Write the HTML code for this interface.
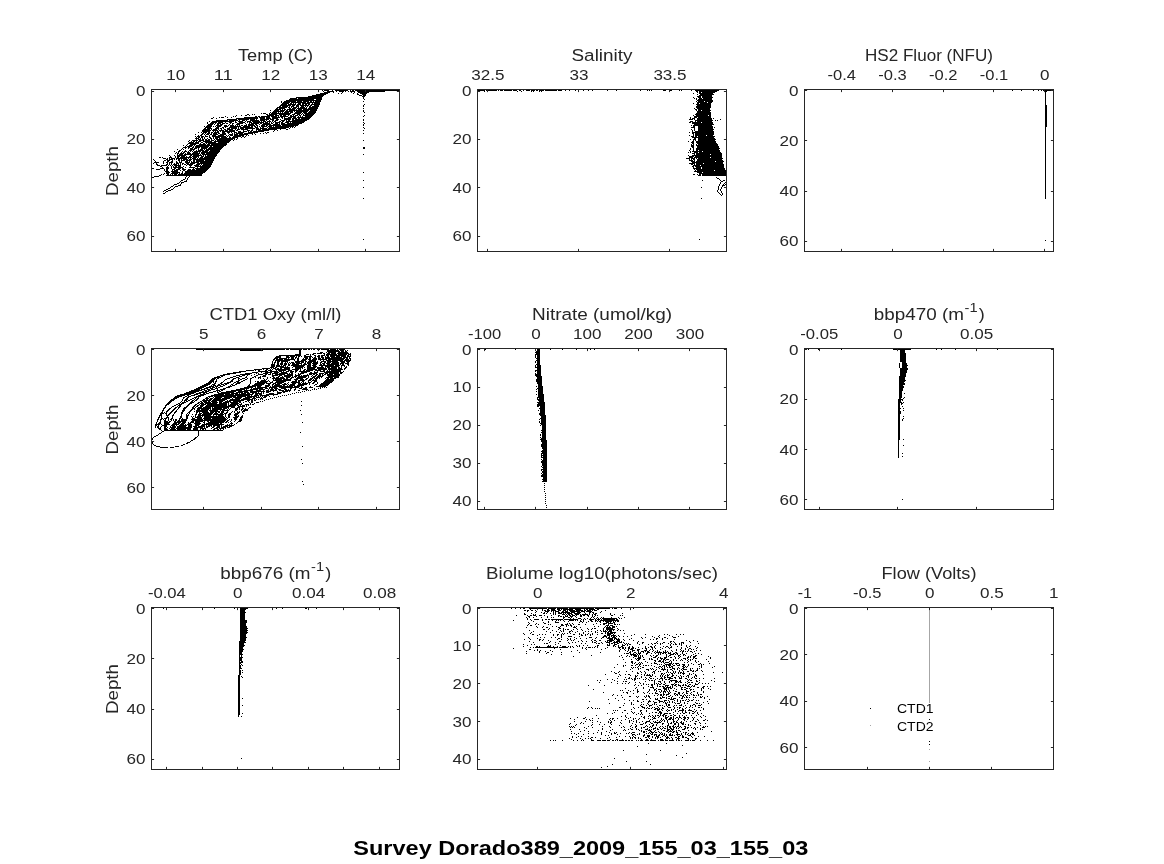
<!DOCTYPE html>
<html><head><meta charset="utf-8"><title>Survey Dorado389_2009_155_03_155_03</title>
<style>html,body{margin:0;padding:0;background:#fff;}svg{display:block;will-change:transform;}text{font-family:"Liberation Sans",sans-serif;}</style></head>
<body>
<svg width="1164" height="864" viewBox="0 0 1164 864" font-family="'Liberation Sans', sans-serif">
<rect width="1164" height="864" fill="#fff"/>
<path transform="translate(0 .5)" d="M344 89h56M694 89h25M1043 89h11M322 90h1M324 90h5M332 90h1M335 90h13M350 90h1M352 90h2M355 90h45M478 90h7M486 90h11M498 90h1M500 90h3M504 90h8M513 90h4M519 90h2M523 90h1M526 90h4M531 90h4M536 90h2M539 90h5M545 90h12M558 90h4M565 90h1M569 90h1M575 90h1M583 90h1M588 90h1M592 90h1M607 90h1M616 90h1M640 90h1M647 90h1M649 90h1M651 90h1M663 90h3M670 90h2M679 90h1M681 90h1M691 90h1M695 90h24M1012 90h1M1021 90h1M1033 90h1M1038 90h1M1041 90h1M1043 90h11M323 91h1M327 91h7M336 91h1M339 91h5M345 91h1M348 91h1M350 91h5M357 91h28M484 91h1M517 91h1M521 91h1M531 91h1M533 91h1M539 91h1M541 91h1M696 91h2M699 91h18M1044 91h3M324 92h6M333 92h1M342 92h1M351 92h1M354 92h1M358 92h11M697 92h1M699 92h2M702 92h13M1045 92h1M320 93h8M338 93h1M341 93h1M353 93h1M357 93h1M360 93h7M693 93h1M699 93h14M1045 93h1M316 94h10M357 94h2M362 94h4M697 94h1M700 94h14M1045 94h1M312 95h12M359 95h3M363 95h3M699 95h13M1045 95h1M308 96h15M362 96h3M697 96h4M702 96h10M1045 96h1M296 97h26M363 97h1M693 97h1M698 97h3M702 97h11M1045 97h1M290 98h7M298 98h24M363 98h1M694 98h1M696 98h1M699 98h3M703 98h9M1045 98h1M289 99h25M316 99h6M364 99h1M696 99h1M698 99h14M1045 99h1M286 100h35M697 100h16M1045 100h1M281 101h1M284 101h12M297 101h5M303 101h6M310 101h2M313 101h1M315 101h6M363 101h1M696 101h1M698 101h6M705 101h8M1045 101h1M281 102h1M283 102h7M291 102h15M307 102h13M697 102h10M708 102h4M1045 102h1M282 103h7M290 103h2M293 103h1M295 103h1M298 103h3M302 103h8M312 103h1M314 103h6M693 103h1M697 103h2M700 103h11M1045 103h1M281 104h6M288 104h8M297 104h4M302 104h2M305 104h2M308 104h2M311 104h9M364 104h1M696 104h15M1045 104h1M280 105h11M292 105h3M296 105h3M300 105h9M310 105h2M314 105h5M363 105h1M697 105h14M1045 105h2M279 106h2M282 106h6M289 106h1M291 106h3M296 106h3M301 106h3M305 106h1M307 106h1M309 106h2M312 106h7M363 106h1M696 106h15M1045 106h2M277 107h10M288 107h2M291 107h1M293 107h4M298 107h1M300 107h5M306 107h1M309 107h9M696 107h15M1045 107h2M276 108h2M279 108h6M289 108h2M292 108h4M297 108h10M308 108h10M363 108h1M694 108h1M697 108h13M1045 108h2M275 109h6M282 109h1M284 109h2M287 109h8M296 109h1M298 109h4M303 109h14M695 109h2M698 109h12M1045 109h2M270 110h1M274 110h5M280 110h5M286 110h2M289 110h20M310 110h7M363 110h1M696 110h1M698 110h3M702 110h9M1045 110h2M273 111h11M285 111h8M294 111h1M296 111h12M309 111h7M363 111h1M697 111h13M1045 111h2M270 112h1M272 112h5M278 112h1M280 112h1M282 112h1M284 112h5M290 112h3M295 112h7M303 112h4M308 112h8M364 112h1M697 112h14M1045 112h2M261 113h1M263 113h3M269 113h1M271 113h20M294 113h7M302 113h1M304 113h11M696 113h15M1045 113h2M247 114h2M252 114h1M254 114h1M266 114h2M269 114h8M279 114h11M292 114h3M297 114h3M301 114h1M303 114h1M305 114h9M695 114h16M1045 114h2M236 115h1M241 115h1M245 115h2M249 115h1M267 115h7M275 115h4M280 115h2M283 115h3M288 115h1M290 115h2M293 115h1M295 115h3M299 115h2M303 115h10M364 115h1M693 115h1M696 115h12M709 115h2M1045 115h2M225 116h1M233 116h1M235 116h1M255 116h2M258 116h2M261 116h9M271 116h6M278 116h1M280 116h8M290 116h6M298 116h1M300 116h1M302 116h1M305 116h7M363 116h1M694 116h17M1045 116h2M213 117h1M219 117h1M221 117h3M227 117h1M231 117h1M244 117h14M259 117h6M266 117h4M272 117h8M281 117h2M284 117h1M288 117h4M293 117h3M297 117h14M690 117h1M694 117h3M698 117h13M1045 117h2M211 118h2M216 118h1M236 118h22M260 118h5M266 118h5M272 118h6M282 118h1M284 118h7M292 118h5M298 118h2M301 118h9M690 118h1M692 118h3M697 118h15M713 118h1M1045 118h2M227 119h10M238 119h11M250 119h5M256 119h1M260 119h9M270 119h4M276 119h3M280 119h1M284 119h7M292 119h2M295 119h14M363 119h1M689 119h4M694 119h1M697 119h15M720 119h1M1045 119h2M216 120h12M229 120h9M239 120h1M242 120h3M246 120h1M250 120h9M260 120h5M266 120h1M269 120h1M272 120h2M275 120h3M281 120h4M286 120h1M288 120h2M292 120h15M363 120h1M695 120h18M715 120h1M717 120h1M1045 120h2M209 121h1M212 121h22M235 121h1M238 121h5M245 121h1M247 121h4M252 121h8M261 121h1M263 121h3M267 121h4M272 121h1M274 121h2M279 121h2M282 121h2M286 121h19M690 121h3M695 121h1M697 121h15M1045 121h2M207 122h1M211 122h6M218 122h5M225 122h1M229 122h3M235 122h2M239 122h6M247 122h1M249 122h3M253 122h11M265 122h3M269 122h1M271 122h1M273 122h1M275 122h5M281 122h2M285 122h4M290 122h1M292 122h12M363 122h1M689 122h2M692 122h9M702 122h11M1045 122h2M207 123h1M210 123h4M215 123h1M217 123h4M222 123h3M226 123h2M230 123h1M232 123h2M237 123h6M245 123h1M249 123h1M251 123h8M260 123h2M263 123h7M271 123h2M275 123h3M279 123h1M281 123h4M287 123h15M364 123h1M692 123h21M1045 123h2M208 124h5M214 124h1M217 124h2M220 124h3M229 124h1M232 124h1M236 124h4M246 124h1M248 124h6M255 124h2M259 124h1M262 124h9M273 124h7M281 124h18M363 124h1M694 124h20M1045 124h2M207 125h5M216 125h6M224 125h3M228 125h1M230 125h4M235 125h1M237 125h1M239 125h1M241 125h2M244 125h3M248 125h7M256 125h2M261 125h4M266 125h2M269 125h12M282 125h16M363 125h1M691 125h1M693 125h19M1045 125h2M204 126h1M206 126h6M213 126h1M215 126h1M217 126h4M224 126h4M230 126h11M243 126h7M251 126h2M254 126h2M257 126h1M259 126h1M261 126h6M268 126h4M273 126h1M275 126h19M295 126h1M693 126h2M698 126h15M1045 126h2M205 127h6M216 127h3M222 127h2M225 127h1M229 127h8M238 127h1M240 127h13M255 127h3M260 127h1M262 127h2M267 127h1M269 127h20M290 127h1M292 127h1M294 127h1M363 127h1M691 127h4M698 127h15M714 127h1M1045 127h1M204 128h2M207 128h5M215 128h4M220 128h2M223 128h1M227 128h3M231 128h6M238 128h1M240 128h4M245 128h10M256 128h3M260 128h7M268 128h18M289 128h1M364 128h1M694 128h1M698 128h15M1045 128h1M203 129h7M211 129h1M213 129h4M218 129h1M221 129h1M224 129h2M227 129h6M235 129h1M237 129h3M241 129h7M252 129h1M256 129h5M262 129h15M280 129h1M286 129h2M691 129h1M694 129h1M698 129h16M1045 129h1M202 130h9M212 130h6M219 130h5M225 130h3M229 130h6M236 130h2M243 130h1M247 130h3M251 130h2M256 130h1M258 130h11M274 130h1M277 130h1M363 130h1M692 130h1M694 130h1M698 130h15M1045 130h1M202 131h8M213 131h1M215 131h1M217 131h2M220 131h1M222 131h13M238 131h3M243 131h4M248 131h1M250 131h2M253 131h11M273 131h1M692 131h1M695 131h19M1045 131h1M198 132h1M201 132h1M203 132h4M208 132h2M211 132h2M214 132h5M222 132h3M227 132h3M231 132h1M234 132h3M238 132h6M248 132h10M265 132h1M267 132h2M689 132h1M692 132h22M1045 132h1M202 133h2M205 133h1M207 133h3M211 133h1M213 133h4M218 133h2M222 133h4M228 133h1M232 133h1M234 133h1M236 133h7M244 133h9M254 133h1M260 133h1M263 133h1M266 133h1M363 133h1M692 133h2M695 133h19M1045 133h1M195 134h1M201 134h2M204 134h1M206 134h3M210 134h2M213 134h5M220 134h6M229 134h4M234 134h4M239 134h9M252 134h1M255 134h1M693 134h1M695 134h19M1045 134h1M198 135h1M200 135h2M205 135h1M209 135h1M212 135h4M218 135h6M226 135h1M228 135h1M230 135h3M234 135h10M246 135h1M248 135h1M689 135h1M693 135h1M695 135h11M707 135h6M1045 135h1M195 136h1M197 136h3M201 136h3M205 136h3M209 136h1M212 136h14M227 136h1M229 136h1M233 136h8M242 136h2M245 136h1M691 136h3M695 136h2M698 136h17M1045 136h1M196 137h1M198 137h2M201 137h2M204 137h1M209 137h2M213 137h1M215 137h5M221 137h6M229 137h2M232 137h6M241 137h1M244 137h1M692 137h22M1045 137h1M195 138h4M200 138h1M202 138h1M204 138h1M207 138h1M210 138h2M213 138h1M215 138h3M219 138h16M237 138h1M694 138h2M698 138h17M1045 138h1M196 139h1M198 139h3M202 139h2M205 139h2M208 139h2M211 139h1M214 139h1M216 139h17M234 139h1M236 139h1M690 139h1M693 139h3M698 139h18M1045 139h1M189 140h1M192 140h6M199 140h5M205 140h5M211 140h3M215 140h1M217 140h14M233 140h1M363 140h1M693 140h1M695 140h1M698 140h17M1045 140h1M188 141h1M191 141h1M193 141h2M196 141h1M198 141h3M203 141h9M214 141h16M688 141h1M692 141h2M696 141h20M1045 141h1M189 142h5M195 142h4M201 142h2M205 142h11M218 142h11M691 142h3M696 142h20M1045 142h1M188 143h11M200 143h1M203 143h2M206 143h1M208 143h19M692 143h2M697 143h20M1045 143h1M187 144h1M190 144h6M199 144h7M207 144h3M211 144h16M691 144h1M693 144h1M696 144h1M698 144h20M1045 144h1M183 145h1M186 145h1M189 145h4M194 145h1M196 145h30M691 145h3M696 145h22M1045 145h1M185 146h1M187 146h5M193 146h1M195 146h14M210 146h2M213 146h11M691 146h3M697 146h22M1045 146h1M183 147h4M188 147h2M192 147h2M195 147h5M201 147h7M209 147h14M363 147h2M692 147h2M697 147h22M1045 147h1M182 148h1M185 148h1M188 148h1M190 148h3M194 148h3M198 148h1M201 148h6M208 148h14M363 148h2M690 148h1M693 148h1M696 148h24M1045 148h1M177 149h1M181 149h1M183 149h1M190 149h5M198 149h1M200 149h3M204 149h1M206 149h15M690 149h1M693 149h1M696 149h23M1045 149h1M179 150h2M185 150h1M189 150h3M193 150h1M196 150h1M198 150h6M205 150h4M210 150h10M689 150h1M693 150h1M696 150h2M699 150h21M1045 150h1M174 151h1M178 151h2M182 151h1M184 151h3M188 151h1M190 151h1M192 151h1M194 151h7M202 151h6M209 151h11M690 151h1M692 151h10M703 151h17M1045 151h1M176 152h1M178 152h1M181 152h1M183 152h2M187 152h3M193 152h5M199 152h1M201 152h18M688 152h1M690 152h1M694 152h4M699 152h22M1045 152h1M175 153h1M177 153h2M180 153h4M185 153h1M187 153h4M192 153h8M201 153h4M206 153h12M692 153h3M696 153h26M1045 153h1M177 154h1M179 154h4M184 154h15M200 154h1M202 154h15M363 154h1M694 154h1M696 154h14M711 154h11M1045 154h1M169 155h1M174 155h1M177 155h9M190 155h2M193 155h9M203 155h1M205 155h1M207 155h10M688 155h1M692 155h30M1045 155h1M170 156h1M175 156h1M177 156h3M181 156h4M186 156h1M189 156h2M192 156h7M201 156h3M205 156h11M689 156h5M695 156h27M1045 156h1M159 157h2M162 157h1M169 157h3M175 157h1M177 157h2M180 157h12M193 157h4M198 157h1M200 157h3M204 157h11M689 157h4M694 157h16M711 157h11M1045 157h1M163 158h3M167 158h1M169 158h1M171 158h4M176 158h11M188 158h1M190 158h1M192 158h4M197 158h1M199 158h16M686 158h4M691 158h4M696 158h1M698 158h25M1045 158h1M153 159h1M166 159h2M169 159h4M174 159h1M176 159h1M178 159h2M181 159h1M183 159h5M189 159h3M193 159h21M689 159h1M691 159h1M693 159h2M697 159h25M1045 159h1M154 160h1M164 160h2M167 160h3M172 160h1M178 160h2M181 160h4M186 160h5M193 160h2M196 160h8M205 160h9M689 160h4M694 160h1M697 160h26M1045 160h1M155 161h1M163 161h1M167 161h2M171 161h2M176 161h1M179 161h1M181 161h1M185 161h3M189 161h1M191 161h1M193 161h2M196 161h17M691 161h4M696 161h19M716 161h8M1045 161h1M154 162h5M163 162h1M166 162h2M169 162h4M176 162h2M179 162h3M185 162h5M191 162h8M200 162h13M692 162h31M1045 162h1M153 163h1M156 163h1M163 163h1M167 163h1M169 163h1M171 163h1M174 163h1M176 163h3M180 163h1M182 163h2M186 163h3M190 163h5M197 163h15M689 163h6M696 163h7M704 163h19M1045 163h1M156 164h2M166 164h2M169 164h1M171 164h1M173 164h4M178 164h1M180 164h1M182 164h1M184 164h2M187 164h6M196 164h4M201 164h1M203 164h9M691 164h2M694 164h1M696 164h28M1045 164h1M157 165h3M161 165h6M168 165h1M170 165h1M172 165h1M174 165h7M186 165h1M189 165h3M194 165h5M200 165h1M202 165h9M693 165h7M701 165h23M1045 165h1M160 166h2M167 166h1M171 166h1M173 166h1M175 166h2M178 166h3M183 166h1M190 166h1M195 166h16M692 166h2M695 166h29M1045 166h1M162 167h1M166 167h3M171 167h1M173 167h10M185 167h1M189 167h6M197 167h1M200 167h10M693 167h1M696 167h5M702 167h22M1045 167h1M152 168h2M160 168h4M166 168h3M171 168h1M174 168h2M178 168h3M182 168h2M193 168h1M195 168h14M693 168h8M702 168h23M1045 168h1M156 169h4M164 169h1M166 169h2M172 169h3M176 169h4M182 169h4M188 169h3M192 169h3M196 169h12M694 169h1M696 169h29M1045 169h1M164 170h1M166 170h2M172 170h1M174 170h4M180 170h1M183 170h2M187 170h20M695 170h1M697 170h17M715 170h11M1045 170h1M165 171h4M171 171h7M182 171h1M185 171h21M694 171h32M1045 171h1M166 172h4M172 172h8M182 172h1M185 172h20M363 172h1M697 172h5M703 172h23M1045 172h1M164 173h1M166 173h3M171 173h7M179 173h1M181 173h2M184 173h19M699 173h27M1045 173h1M161 174h1M163 174h1M167 174h2M170 174h1M172 174h1M174 174h3M178 174h24M693 174h2M697 174h1M699 174h2M702 174h25M1045 174h1M159 175h2M166 175h36M698 175h3M702 175h24M1045 175h1M154 176h5M186 176h1M189 176h1M1045 176h1M152 177h2M185 177h1M188 177h1M716 177h1M1045 177h1M185 178h1M187 178h1M717 178h2M1045 178h1M183 179h2M187 179h1M719 179h1M1045 179h1M181 180h2M186 180h1M363 180h1M702 180h1M720 180h1M723 180h2M726 180h1M1045 180h1M180 181h1M184 181h3M721 181h2M726 181h1M1045 181h1M179 182h1M181 182h3M720 182h1M725 182h1M1045 182h1M177 183h2M181 183h1M720 183h1M724 183h1M1045 183h1M174 184h3M180 184h1M719 184h1M723 184h1M725 184h1M1045 184h1M173 185h1M178 185h3M719 185h1M722 185h3M1045 185h1M171 186h2M175 186h3M718 186h1M722 186h1M1045 186h1M170 187h1M174 187h1M363 187h1M701 187h1M718 187h1M721 187h1M1045 187h1M168 188h2M173 188h1M718 188h1M721 188h1M1045 188h1M166 189h2M171 189h2M718 189h1M720 189h1M1045 189h1M164 190h2M168 190h3M717 190h1M720 190h1M1045 190h1M163 191h1M166 191h2M717 191h1M721 191h1M1045 191h1M165 192h1M718 192h1M721 192h1M1045 192h1M163 193h2M719 193h1M722 193h1M1045 193h1M720 194h1M722 194h1M1045 194h1M721 195h1M1045 195h1M1045 196h1M1045 197h1M363 198h1M701 198h1M1045 198h1M363 239h1M699 239h1M1045 240h1M196 349h89M286 349h3M290 349h12M303 349h4M308 349h2M311 349h1M313 349h2M317 349h3M321 349h8M330 349h6M337 349h1M339 349h6M485 349h1M515 349h1M535 349h1M537 349h3M550 349h1M562 349h1M576 349h1M590 349h1M594 349h1M808 349h1M818 349h1M841 349h1M893 349h18M936 349h1M941 349h1M955 349h1M997 349h1M240 350h23M299 350h2M327 350h12M340 350h4M345 350h1M347 350h1M537 350h3M900 350h5M299 351h2M327 351h13M341 351h3M345 351h2M536 351h4M900 351h5M299 352h2M320 352h3M326 352h1M328 352h8M338 352h10M535 352h5M900 352h5M299 353h2M313 353h3M317 353h5M323 353h2M327 353h3M331 353h5M337 353h12M350 353h1M536 353h4M900 353h6M295 354h6M306 354h3M310 354h1M312 354h2M324 354h1M326 354h11M338 354h9M348 354h3M535 354h5M900 354h6M279 355h22M304 355h2M310 355h1M314 355h2M318 355h2M321 355h4M326 355h3M330 355h16M347 355h2M350 355h1M535 355h1M537 355h3M900 355h6M276 356h5M286 356h3M290 356h5M296 356h1M298 356h2M301 356h1M304 356h8M315 356h1M317 356h3M321 356h2M325 356h1M327 356h2M330 356h5M336 356h4M341 356h5M347 356h4M535 356h1M537 356h3M900 356h6M275 357h6M286 357h4M291 357h3M295 357h2M298 357h1M304 357h4M309 357h2M312 357h1M314 357h2M318 357h2M321 357h3M325 357h5M331 357h11M343 357h5M349 357h1M535 357h1M537 357h3M900 357h6M274 358h4M279 358h8M288 358h1M291 358h3M295 358h1M297 358h2M303 358h1M305 358h3M309 358h2M313 358h4M318 358h3M322 358h2M325 358h20M346 358h2M349 358h2M536 358h4M900 358h6M273 359h2M276 359h7M284 359h11M297 359h2M302 359h5M308 359h3M312 359h5M318 359h9M328 359h16M345 359h4M350 359h1M537 359h3M900 359h6M273 360h1M275 360h15M294 360h1M297 360h2M301 360h5M309 360h7M320 360h1M323 360h1M326 360h5M332 360h11M344 360h7M536 360h4M900 360h6M272 361h1M275 361h1M277 361h3M281 361h7M295 361h9M305 361h2M308 361h8M317 361h1M321 361h5M327 361h11M340 361h5M346 361h4M535 361h1M537 361h3M900 361h6M272 362h1M274 362h2M277 362h2M281 362h2M285 362h1M287 362h1M289 362h1M291 362h3M295 362h5M301 362h3M305 362h1M307 362h5M313 362h5M320 362h2M324 362h2M327 362h4M332 362h7M341 362h4M347 362h2M535 362h1M537 362h3M902 362h4M272 363h1M274 363h1M277 363h2M280 363h3M284 363h3M288 363h1M290 363h1M292 363h3M296 363h6M304 363h2M307 363h4M312 363h6M320 363h1M322 363h3M326 363h4M331 363h8M340 363h4M345 363h4M537 363h3M899 363h1M902 363h5M271 364h4M277 364h2M280 364h3M284 364h3M288 364h2M292 364h7M301 364h1M303 364h4M308 364h3M313 364h4M320 364h2M323 364h2M327 364h12M340 364h1M342 364h2M347 364h2M536 364h4M899 364h1M902 364h5M271 365h4M276 365h4M281 365h1M283 365h3M288 365h2M291 365h14M307 365h4M312 365h4M319 365h15M335 365h5M341 365h4M348 365h1M535 365h1M537 365h4M899 365h1M902 365h6M271 366h4M276 366h8M285 366h1M287 366h1M293 366h11M307 366h4M313 366h4M321 366h2M325 366h14M341 366h1M344 366h1M346 366h1M535 366h1M537 366h4M899 366h1M902 366h5M270 367h4M275 367h2M280 367h10M292 367h1M295 367h8M304 367h1M307 367h9M317 367h7M325 367h1M327 367h3M331 367h6M338 367h2M341 367h1M345 367h2M535 367h6M899 367h1M902 367h5M262 368h8M271 368h1M273 368h3M277 368h2M280 368h2M284 368h6M295 368h6M302 368h1M307 368h8M317 368h10M328 368h9M338 368h4M344 368h2M537 368h4M900 368h8M254 369h8M263 369h1M266 369h2M270 369h1M272 369h1M275 369h15M292 369h7M300 369h1M304 369h2M307 369h10M318 369h9M328 369h15M344 369h1M537 369h4M900 369h8M246 370h8M255 370h1M258 370h2M265 370h2M268 370h4M276 370h1M278 370h8M288 370h4M295 370h3M300 370h1M303 370h2M306 370h7M315 370h6M323 370h2M327 370h1M329 370h1M331 370h10M535 370h6M900 370h7M239 371h7M258 371h10M270 371h8M279 371h3M283 371h1M286 371h3M290 371h4M295 371h2M299 371h11M314 371h1M317 371h1M320 371h5M326 371h15M343 371h1M535 371h1M537 371h4M900 371h7M233 372h8M252 372h6M261 372h1M265 372h7M274 372h5M281 372h6M290 372h3M295 372h1M301 372h6M310 372h2M314 372h4M324 372h15M340 372h3M537 372h4M900 372h7M227 373h9M245 373h7M256 373h1M258 373h1M263 373h5M270 373h1M272 373h6M279 373h9M289 373h1M291 373h2M298 373h1M300 373h4M309 373h8M319 373h5M325 373h3M329 373h10M340 373h2M535 373h1M537 373h4M900 373h6M223 374h7M240 374h10M254 374h1M258 374h5M265 374h2M268 374h3M272 374h1M275 374h10M287 374h6M295 374h1M298 374h3M307 374h1M309 374h3M313 374h2M316 374h2M319 374h2M322 374h1M324 374h2M327 374h6M334 374h6M535 374h6M900 374h6M220 375h5M236 375h4M242 375h3M247 375h1M251 375h1M256 375h2M263 375h3M272 375h6M279 375h3M284 375h9M295 375h5M301 375h1M303 375h6M312 375h1M315 375h2M318 375h3M322 375h2M327 375h13M535 375h6M900 375h6M217 376h3M221 376h2M233 376h3M239 376h3M246 376h1M254 376h2M260 376h1M262 376h4M272 376h2M278 376h2M282 376h1M284 376h7M292 376h1M294 376h3M298 376h9M308 376h1M311 376h1M313 376h3M317 376h6M328 376h11M536 376h6M899 376h7M214 377h7M230 377h3M236 377h3M245 377h2M252 377h2M255 377h1M258 377h3M267 377h1M270 377h1M273 377h2M276 377h3M280 377h4M286 377h4M291 377h3M295 377h1M297 377h9M308 377h1M312 377h3M316 377h4M321 377h1M326 377h7M334 377h5M537 377h5M899 377h6M212 378h4M217 378h2M227 378h3M233 378h3M238 378h2M242 378h3M247 378h1M250 378h2M258 378h1M260 378h1M263 378h1M267 378h1M272 378h13M286 378h2M290 378h2M296 378h7M306 378h2M310 378h3M314 378h4M319 378h1M325 378h1M327 378h2M330 378h6M537 378h5M899 378h6M211 379h4M216 379h1M225 379h2M232 379h2M238 379h1M240 379h2M245 379h2M250 379h1M264 379h1M266 379h1M273 379h1M275 379h7M283 379h8M294 379h4M300 379h4M305 379h2M309 379h3M313 379h1M315 379h2M326 379h8M536 379h6M899 379h6M210 380h4M216 380h1M224 380h1M231 380h2M238 380h2M243 380h2M250 380h1M261 380h5M268 380h1M273 380h18M295 380h2M298 380h7M308 380h3M312 380h5M325 380h9M536 380h6M899 380h7M209 381h5M215 381h2M223 381h1M230 381h3M236 381h3M241 381h2M250 381h1M255 381h1M257 381h2M260 381h8M269 381h1M272 381h1M276 381h10M292 381h5M298 381h2M302 381h2M308 381h1M311 381h1M314 381h3M324 381h9M536 381h6M899 381h6M208 382h4M213 382h1M215 382h1M221 382h2M227 382h4M234 382h2M237 382h4M250 382h1M257 382h10M270 382h3M275 382h9M288 382h1M291 382h9M301 382h1M303 382h1M305 382h1M308 382h3M313 382h2M317 382h1M323 382h9M537 382h5M899 382h5M206 383h5M214 383h2M220 383h2M224 383h5M233 383h1M236 383h4M250 383h1M255 383h10M266 383h5M273 383h3M277 383h5M284 383h2M287 383h1M292 383h4M298 383h3M302 383h6M309 383h1M312 383h2M317 383h1M321 383h9M537 383h5M899 383h6M204 384h6M212 384h3M218 384h2M221 384h3M225 384h2M231 384h2M235 384h2M249 384h1M254 384h10M268 384h2M272 384h2M275 384h5M282 384h5M288 384h1M290 384h5M298 384h9M309 384h1M315 384h2M320 384h9M538 384h4M899 384h6M202 385h6M211 385h1M213 385h3M217 385h4M223 385h2M230 385h1M232 385h3M248 385h2M252 385h10M265 385h5M272 385h1M274 385h8M283 385h2M287 385h1M289 385h6M297 385h7M314 385h1M319 385h9M538 385h4M899 385h4M200 386h6M209 386h5M215 386h3M220 386h3M228 386h4M247 386h9M257 386h4M265 386h4M270 386h1M272 386h21M294 386h6M301 386h1M310 386h1M316 386h10M536 386h1M538 386h5M899 386h5M198 387h6M206 387h5M212 387h3M216 387h1M218 387h2M226 387h4M244 387h9M255 387h1M257 387h10M269 387h8M279 387h20M301 387h2M305 387h2M309 387h4M320 387h1M322 387h1M324 387h1M326 387h1M538 387h5M899 387h5M196 388h6M204 388h4M210 388h3M215 388h3M223 388h3M240 388h9M251 388h1M253 388h10M265 388h3M269 388h1M271 388h2M274 388h4M281 388h5M290 388h2M295 388h1M299 388h3M303 388h4M314 388h1M318 388h1M320 388h1M537 388h6M899 388h4M194 389h6M201 389h4M207 389h3M211 389h4M217 389h1M220 389h5M236 389h9M246 389h1M250 389h8M259 389h6M268 389h1M270 389h4M275 389h2M278 389h3M284 389h3M288 389h1M290 389h1M294 389h2M302 389h6M312 389h1M314 389h1M316 389h1M536 389h1M538 389h5M899 389h4M191 390h11M204 390h3M208 390h3M216 390h4M221 390h2M231 390h11M244 390h9M256 390h5M263 390h1M266 390h3M270 390h7M279 390h5M285 390h6M294 390h1M298 390h2M306 390h1M308 390h1M310 390h1M538 390h5M899 390h4M189 391h10M202 391h2M205 391h4M213 391h3M217 391h1M219 391h2M226 391h10M238 391h10M250 391h15M266 391h5M273 391h1M277 391h1M282 391h6M289 391h1M302 391h1M304 391h1M536 391h1M538 391h5M899 391h3M186 392h10M199 392h8M209 392h4M217 392h2M221 392h13M236 392h7M244 392h5M250 392h7M258 392h1M261 392h1M263 392h1M266 392h3M277 392h5M283 392h2M296 392h1M298 392h1M300 392h1M538 392h5M899 392h3M184 393h10M196 393h5M203 393h2M206 393h3M218 393h12M231 393h7M239 393h1M241 393h5M247 393h3M252 393h2M255 393h7M263 393h1M269 393h5M277 393h4M292 393h1M294 393h1M538 393h5M899 393h3M904 393h1M180 394h11M194 394h4M200 394h6M214 394h10M225 394h9M235 394h18M255 394h3M259 394h3M266 394h12M288 394h1M290 394h1M536 394h1M538 394h6M899 394h3M177 395h8M187 395h2M191 395h4M198 395h6M211 395h39M251 395h1M254 395h5M260 395h9M273 395h1M282 395h1M284 395h1M286 395h1M538 395h6M899 395h3M175 396h7M185 396h2M188 396h3M196 396h5M208 396h5M214 396h22M237 396h9M247 396h10M258 396h1M260 396h1M262 396h1M264 396h3M269 396h1M278 396h1M280 396h1M538 396h6M899 396h3M174 397h5M183 397h2M187 397h2M194 397h3M198 397h1M206 397h2M209 397h1M213 397h1M215 397h7M224 397h8M233 397h9M245 397h7M253 397h2M256 397h4M261 397h1M263 397h3M274 397h1M276 397h1M537 397h7M899 397h3M904 397h1M173 398h4M183 398h1M186 398h2M192 398h2M195 398h1M197 398h2M205 398h4M210 398h3M214 398h7M222 398h8M232 398h1M235 398h6M243 398h7M252 398h4M260 398h3M270 398h1M272 398h1M537 398h1M539 398h5M899 398h2M903 398h1M171 399h4M182 399h1M185 399h3M190 399h2M194 399h1M196 399h2M203 399h2M206 399h2M209 399h3M213 399h14M230 399h10M241 399h12M254 399h1M256 399h1M258 399h1M260 399h1M262 399h1M266 399h1M268 399h1M537 399h7M898 399h5M170 400h4M182 400h1M184 400h3M188 400h2M192 400h2M195 400h2M202 400h9M212 400h13M227 400h1M229 400h15M247 400h3M251 400h2M254 400h2M264 400h1M538 400h6M898 400h3M902 400h1M169 401h3M181 401h1M184 401h1M186 401h2M191 401h2M194 401h1M200 401h2M203 401h4M208 401h2M211 401h6M219 401h4M225 401h6M233 401h8M245 401h2M248 401h1M251 401h2M260 401h1M262 401h1M301 401h1M539 401h5M898 401h3M168 402h3M180 402h1M182 402h4M190 402h4M198 402h2M201 402h2M204 402h7M212 402h6M219 402h3M223 402h6M230 402h8M239 402h2M243 402h1M249 402h1M251 402h2M256 402h3M537 402h8M898 402h4M903 402h1M167 403h3M178 403h2M181 403h3M189 403h3M197 403h2M200 403h4M205 403h12M219 403h8M228 403h1M231 403h8M241 403h1M250 403h1M254 403h1M538 403h7M898 403h2M901 403h2M166 404h3M176 404h2M179 404h3M188 404h2M195 404h2M199 404h1M201 404h5M207 404h20M228 404h1M230 404h8M239 404h3M245 404h4M250 404h1M252 404h2M537 404h8M898 404h2M901 404h1M165 405h2M174 405h2M178 405h3M187 405h2M194 405h2M197 405h2M200 405h4M206 405h21M228 405h8M237 405h2M240 405h1M242 405h3M246 405h1M248 405h1M301 405h1M537 405h8M898 405h2M165 406h1M172 406h2M177 406h1M179 406h2M186 406h2M193 406h2M196 406h2M200 406h3M205 406h30M238 406h7M246 406h1M537 406h2M540 406h5M898 406h2M902 406h1M164 407h2M171 407h1M175 407h2M178 407h2M184 407h3M192 407h2M195 407h1M198 407h4M203 407h8M212 407h1M214 407h15M231 407h4M237 407h3M242 407h1M249 407h2M540 407h5M898 407h2M163 408h2M169 408h2M174 408h2M178 408h1M183 408h3M192 408h3M197 408h14M212 408h10M223 408h4M228 408h1M230 408h1M235 408h3M239 408h1M242 408h2M245 408h1M248 408h1M539 408h6M898 408h3M903 408h1M163 409h1M168 409h2M173 409h2M177 409h1M183 409h2M191 409h2M194 409h1M197 409h3M201 409h8M210 409h1M212 409h13M227 409h1M229 409h1M235 409h3M239 409h1M241 409h2M244 409h4M540 409h5M898 409h2M162 410h2M167 410h2M172 410h2M176 410h1M182 410h3M190 410h2M196 410h12M209 410h9M220 410h1M222 410h7M235 410h2M241 410h1M243 410h5M300 410h1M538 410h1M540 410h5M898 410h2M903 410h1M162 411h1M166 411h2M171 411h2M175 411h2M182 411h2M189 411h2M194 411h1M196 411h12M210 411h10M221 411h3M227 411h1M232 411h1M234 411h1M237 411h1M239 411h1M242 411h3M540 411h5M898 411h3M161 412h2M164 412h1M166 412h1M170 412h2M174 412h2M181 412h2M188 412h2M196 412h2M199 412h1M202 412h7M210 412h4M215 412h2M218 412h2M221 412h3M226 412h2M231 412h1M234 412h1M237 412h3M242 412h1M540 412h5M898 412h3M160 413h4M165 413h2M169 413h2M174 413h1M181 413h2M187 413h1M189 413h1M196 413h1M199 413h3M203 413h10M214 413h4M220 413h3M224 413h3M229 413h2M235 413h4M243 413h1M539 413h6M898 413h3M160 414h2M166 414h1M168 414h2M173 414h1M181 414h1M186 414h1M188 414h1M192 414h1M195 414h2M198 414h3M202 414h10M213 414h11M225 414h1M228 414h3M234 414h4M301 414h1M539 414h6M898 414h2M159 415h3M166 415h3M172 415h2M181 415h1M186 415h3M195 415h1M198 415h13M213 415h1M216 415h1M218 415h5M225 415h1M228 415h2M234 415h3M238 415h1M242 415h1M540 415h6M898 415h2M159 416h1M161 416h1M167 416h1M172 416h1M180 416h2M186 416h2M191 416h1M193 416h1M195 416h1M197 416h4M202 416h1M204 416h20M225 416h1M228 416h2M235 416h4M241 416h2M541 416h5M898 416h2M903 416h1M158 417h2M161 417h1M166 417h3M172 417h1M180 417h2M186 417h2M192 417h1M195 417h7M204 417h21M226 417h1M228 417h2M233 417h5M240 417h3M541 417h5M898 417h2M158 418h1M161 418h2M164 418h3M168 418h1M171 418h2M179 418h2M182 418h1M186 418h2M192 418h3M197 418h5M203 418h8M212 418h14M227 418h1M234 418h3M240 418h2M540 418h6M898 418h2M903 418h1M157 419h2M160 419h2M163 419h1M165 419h1M168 419h1M170 419h2M173 419h1M175 419h2M179 419h1M181 419h6M191 419h12M204 419h23M229 419h1M231 419h1M234 419h3M239 419h3M539 419h1M541 419h5M898 419h2M902 419h1M157 420h1M160 420h1M164 420h2M168 420h1M171 420h1M173 420h1M175 420h2M178 420h2M181 420h6M192 420h34M227 420h2M231 420h1M235 420h1M239 420h3M541 420h5M898 420h2M902 420h1M157 421h1M160 421h1M164 421h4M169 421h2M174 421h2M177 421h9M191 421h3M195 421h8M204 421h1M207 421h2M210 421h15M226 421h2M230 421h1M234 421h1M238 421h3M539 421h1M541 421h5M898 421h2M156 422h1M159 422h2M164 422h6M174 422h7M182 422h4M188 422h1M190 422h4M195 422h5M203 422h2M208 422h16M225 422h2M228 422h1M231 422h1M237 422h1M302 422h1M539 422h1M541 422h5M898 422h2M156 423h1M158 423h3M164 423h5M173 423h4M178 423h2M181 423h4M188 423h3M194 423h7M204 423h1M206 423h13M220 423h2M230 423h3M236 423h1M540 423h6M898 423h2M155 424h5M161 424h1M164 424h6M172 424h7M180 424h4M185 424h1M187 424h5M195 424h5M202 424h22M227 424h1M229 424h1M231 424h1M234 424h1M541 424h5M898 424h2M155 425h2M158 425h1M162 425h5M171 425h4M176 425h1M179 425h8M188 425h4M195 425h4M201 425h4M206 425h1M208 425h4M213 425h7M221 425h1M225 425h9M540 425h1M542 425h4M898 425h2M155 426h1M157 426h2M161 426h1M164 426h3M170 426h1M172 426h4M177 426h9M188 426h4M193 426h4M198 426h7M206 426h4M211 426h1M213 426h2M217 426h3M221 426h1M223 426h5M229 426h3M542 426h4M898 426h2M155 427h1M157 427h2M160 427h1M164 427h2M167 427h1M170 427h6M177 427h15M194 427h9M204 427h1M206 427h2M212 427h2M216 427h4M221 427h5M227 427h3M542 427h4M898 427h2M158 428h3M164 428h3M169 428h1M171 428h4M176 428h15M193 428h5M200 428h6M211 428h1M214 428h4M219 428h5M225 428h1M542 428h4M898 428h2M159 429h2M164 429h4M170 429h6M177 429h9M187 429h4M193 429h5M200 429h1M202 429h2M205 429h1M213 429h2M217 429h2M220 429h1M223 429h1M542 429h4M898 429h2M161 430h1M164 430h59M541 430h5M898 430h2M162 431h2M198 431h1M542 431h4M898 431h2M161 432h1M198 432h1M300 432h1M541 432h5M898 432h2M159 433h2M198 433h1M542 433h4M898 433h2M158 434h1M198 434h1M540 434h1M542 434h4M898 434h2M156 435h2M198 435h1M540 435h1M542 435h4M898 435h2M154 436h2M197 436h1M542 436h4M898 436h2M153 437h1M195 437h2M540 437h1M542 437h4M898 437h2M152 438h1M194 438h2M541 438h5M898 438h2M152 439h1M193 439h2M540 439h6M898 439h2M903 439h1M151 440h1M191 440h2M541 440h6M898 440h1M151 441h1M190 441h1M541 441h6M898 441h1M152 442h1M187 442h3M542 442h5M898 442h1M152 443h1M186 443h2M542 443h5M898 443h1M153 444h1M183 444h2M541 444h6M898 444h1M154 445h2M181 445h2M541 445h6M898 445h1M903 445h1M156 446h4M175 446h4M302 446h1M541 446h6M898 446h1M160 447h8M170 447h4M542 447h5M898 447h1M542 448h5M898 448h1M543 449h4M898 449h1M542 450h5M898 450h1M541 451h6M898 451h1M542 452h5M898 452h1M541 453h6M898 453h1M902 453h1M541 454h1M543 454h4M898 454h1M541 455h6M898 455h1M541 456h1M543 456h4M898 456h1M902 456h1M541 457h6M898 457h1M543 458h4M301 459h1M541 459h1M543 459h4M542 460h5M541 461h6M541 462h6M302 463h1M542 463h5M542 464h5M542 465h5M541 466h1M543 466h4M542 467h5M543 468h4M541 469h6M541 470h1M543 470h4M542 471h5M542 472h5M541 473h1M543 473h4M542 474h5M541 475h6M541 476h6M543 477h4M543 478h4M542 479h5M543 480h4M302 481h1M542 481h5M544 483h1M303 484h1M544 485h1M544 487h1M544 489h1M544 491h1M545 493h1M545 495h1M545 497h1M545 499h1M902 499h1M545 501h1M545 503h1M546 505h1M546 507h1M240 607h5M163 608h1M214 608h1M234 608h1M240 608h8M276 608h1M282 608h1M305 608h2M316 608h1M511 608h1M515 608h1M520 608h1M523 608h2M529 608h18M548 608h8M557 608h11M569 608h25M595 608h15M612 608h1M614 608h3M621 608h1M633 608h1M240 609h6M530 609h1M537 609h1M542 609h1M547 609h2M551 609h4M557 609h3M561 609h1M563 609h10M575 609h6M584 609h1M586 609h2M589 609h6M597 609h2M240 610h5M524 610h2M527 610h2M531 610h2M535 610h1M542 610h1M544 610h2M547 610h3M551 610h5M558 610h3M563 610h3M567 610h1M569 610h6M576 610h7M584 610h2M587 610h4M592 610h1M594 610h3M605 610h1M240 611h5M527 611h1M536 611h1M545 611h4M551 611h1M553 611h1M555 611h4M562 611h2M565 611h3M570 611h10M581 611h4M586 611h6M601 611h1M240 612h6M535 612h1M541 612h1M544 612h1M547 612h1M553 612h1M555 612h1M558 612h2M561 612h9M571 612h4M577 612h4M584 612h1M589 612h2M592 612h2M600 612h1M240 613h5M524 613h1M531 613h1M543 613h2M546 613h1M550 613h1M553 613h1M555 613h1M558 613h4M563 613h1M565 613h1M567 613h5M574 613h6M585 613h1M589 613h1M593 613h1M595 613h2M610 613h1M622 613h1M240 614h5M524 614h2M533 614h1M535 614h1M553 614h1M555 614h1M562 614h3M566 614h1M568 614h2M571 614h2M575 614h4M580 614h1M582 614h6M589 614h1M592 614h1M594 614h2M610 614h1M614 614h1M240 615h5M516 615h1M527 615h1M530 615h2M533 615h3M539 615h3M544 615h1M551 615h1M558 615h2M565 615h1M567 615h1M569 615h2M572 615h3M576 615h1M580 615h2M583 615h2M587 615h2M592 615h1M595 615h1M597 615h1M611 615h2M620 615h1M622 615h1M240 616h5M528 616h2M536 616h1M547 616h1M558 616h1M560 616h2M563 616h1M565 616h3M570 616h3M575 616h1M580 616h2M588 616h1M592 616h1M594 616h1M240 617h5M526 617h1M529 617h1M533 617h1M541 617h1M547 617h1M551 617h1M553 617h1M563 617h2M568 617h2M571 617h1M576 617h1M591 617h1M593 617h1M597 617h1M601 617h1M603 617h1M611 617h1M618 617h1M624 617h1M240 618h5M527 618h1M563 618h1M570 618h1M573 618h1M578 618h3M584 618h1M587 618h1M590 618h1M594 618h1M596 618h1M598 618h1M600 618h1M602 618h15M619 618h1M621 618h1M240 619h5M527 619h1M530 619h1M534 619h5M542 619h1M545 619h2M548 619h2M551 619h12M564 619h14M581 619h1M583 619h1M585 619h1M589 619h5M595 619h1M597 619h3M601 619h1M603 619h12M616 619h2M240 620h7M513 620h1M531 620h1M542 620h1M552 620h1M556 620h1M558 620h1M560 620h1M563 620h1M569 620h5M575 620h1M577 620h1M580 620h1M583 620h1M590 620h2M595 620h2M598 620h1M600 620h19M240 621h7M533 621h1M548 621h1M555 621h1M564 621h1M568 621h1M580 621h2M583 621h1M588 621h1M591 621h2M595 621h1M597 621h1M599 621h2M603 621h1M605 621h7M613 621h1M615 621h1M617 621h2M240 622h7M528 622h1M543 622h1M548 622h1M555 622h4M579 622h1M582 622h1M586 622h1M600 622h1M606 622h3M610 622h1M613 622h2M240 623h6M529 623h1M536 623h1M544 623h2M567 623h1M569 623h1M572 623h1M596 623h1M603 623h4M608 623h5M614 623h1M240 624h6M528 624h1M535 624h1M538 624h1M548 624h1M550 624h1M561 624h2M565 624h3M570 624h1M573 624h1M578 624h2M585 624h1M593 624h1M600 624h1M603 624h2M608 624h1M614 624h2M617 624h1M619 624h1M240 625h6M527 625h1M530 625h2M561 625h3M566 625h1M568 625h1M570 625h2M606 625h3M610 625h3M240 626h7M536 626h1M543 626h1M552 626h1M556 626h1M560 626h1M566 626h1M571 626h1M574 626h1M576 626h1M594 626h1M598 626h1M605 626h1M607 626h1M609 626h1M612 626h3M616 626h1M240 627h7M526 627h1M537 627h1M542 627h1M546 627h2M558 627h2M573 627h3M580 627h1M604 627h1M606 627h5M612 627h3M240 628h8M549 628h1M559 628h2M563 628h1M576 628h1M587 628h1M592 628h1M594 628h2M603 628h1M606 628h7M617 628h1M240 629h7M543 629h2M548 629h1M558 629h1M563 629h1M565 629h1M567 629h2M573 629h1M577 629h1M581 629h1M588 629h1M591 629h1M603 629h1M606 629h9M618 629h1M240 630h8M529 630h1M552 630h1M560 630h1M563 630h1M571 630h1M582 630h1M597 630h1M600 630h1M603 630h1M605 630h1M607 630h1M609 630h3M613 630h1M617 630h1M620 630h1M623 630h1M240 631h7M533 631h1M546 631h1M556 631h1M561 631h1M563 631h1M569 631h2M572 631h1M577 631h1M585 631h1M588 631h1M591 631h1M595 631h1M601 631h1M603 631h4M608 631h4M240 632h8M531 632h1M550 632h1M559 632h1M569 632h1M575 632h1M583 632h1M595 632h1M597 632h1M605 632h1M607 632h2M610 632h6M240 633h7M523 633h1M530 633h1M562 633h1M564 633h1M567 633h1M570 633h1M579 633h1M583 633h1M588 633h1M592 633h1M601 633h2M605 633h1M607 633h6M614 633h1M624 633h1M240 634h6M524 634h1M532 634h2M539 634h1M542 634h1M545 634h1M553 634h1M557 634h2M561 634h1M563 634h1M573 634h2M579 634h1M581 634h1M585 634h1M587 634h1M590 634h1M592 634h1M597 634h1M607 634h4M613 634h1M634 634h1M645 634h1M664 634h1M667 634h1M676 634h1M680 634h1M683 634h1M240 635h6M537 635h1M553 635h1M557 635h1M561 635h1M581 635h2M585 635h1M590 635h1M604 635h2M607 635h3M611 635h5M618 635h1M631 635h1M659 635h1M669 635h1M240 636h6M561 636h1M568 636h4M579 636h1M603 636h4M609 636h1M611 636h1M613 636h2M616 636h1M619 636h1M623 636h1M627 636h1M652 636h1M658 636h1M672 636h1M678 636h1M240 637h7M528 637h1M540 637h1M544 637h1M551 637h1M555 637h1M561 637h1M574 637h1M589 637h3M596 637h1M602 637h2M606 637h1M608 637h2M612 637h4M641 637h1M645 637h1M654 637h1M659 637h1M664 637h2M673 637h3M240 638h6M529 638h1M537 638h1M558 638h2M567 638h1M570 638h1M576 638h1M580 638h1M586 638h1M595 638h1M601 638h1M607 638h6M614 638h3M618 638h1M631 638h1M642 638h1M656 638h2M662 638h1M667 638h1M240 639h6M524 639h1M530 639h1M539 639h2M543 639h1M557 639h1M561 639h1M568 639h1M570 639h1M574 639h1M592 639h1M609 639h4M614 639h1M616 639h4M623 639h1M629 639h1M650 639h1M653 639h1M656 639h1M662 639h1M674 639h1M240 640h6M539 640h1M542 640h1M548 640h1M567 640h1M571 640h1M573 640h1M581 640h1M591 640h1M594 640h2M599 640h2M607 640h7M617 640h3M624 640h1M633 640h1M686 640h1M693 640h1M239 641h6M529 641h1M550 641h1M559 641h2M578 641h1M582 641h1M586 641h1M592 641h1M596 641h1M605 641h1M607 641h1M609 641h3M614 641h1M616 641h4M621 641h1M638 641h1M657 641h1M670 641h2M673 641h1M689 641h1M697 641h1M239 642h7M533 642h1M549 642h1M555 642h1M568 642h1M572 642h1M575 642h1M592 642h1M594 642h2M601 642h1M606 642h4M613 642h5M619 642h3M623 642h1M637 642h1M642 642h2M656 642h1M663 642h2M670 642h1M674 642h1M681 642h3M690 642h1M239 643h5M544 643h1M546 643h2M558 643h1M569 643h1M581 643h1M585 643h1M596 643h1M598 643h2M602 643h1M609 643h1M611 643h2M614 643h1M617 643h2M624 643h1M626 643h1M628 643h1M637 643h1M642 643h1M651 643h1M654 643h2M657 643h1M660 643h1M662 643h1M668 643h1M671 643h1M675 643h1M679 643h1M681 643h1M683 643h1M698 643h1M239 644h5M523 644h1M531 644h1M534 644h1M555 644h1M607 644h1M609 644h1M614 644h3M622 644h1M625 644h1M627 644h1M629 644h2M639 644h1M648 644h1M652 644h1M660 644h1M670 644h1M673 644h1M675 644h2M679 644h1M681 644h1M239 645h6M527 645h1M548 645h1M550 645h1M560 645h1M576 645h1M579 645h1M583 645h1M587 645h1M597 645h2M607 645h3M613 645h2M618 645h1M622 645h3M627 645h1M655 645h1M670 645h1M681 645h1M686 645h1M690 645h1M239 646h5M523 646h1M536 646h2M539 646h1M547 646h4M553 646h1M557 646h1M562 646h4M568 646h1M570 646h1M572 646h1M577 646h1M579 646h1M595 646h1M597 646h1M613 646h1M615 646h1M618 646h1M621 646h2M629 646h1M632 646h1M645 646h1M650 646h2M654 646h1M663 646h1M666 646h2M671 646h1M677 646h1M686 646h1M689 646h1M695 646h1M239 647h4M530 647h1M533 647h1M535 647h23M559 647h9M570 647h1M573 647h1M582 647h1M586 647h1M588 647h3M592 647h1M594 647h1M597 647h1M607 647h1M618 647h3M622 647h2M625 647h1M628 647h2M632 647h2M638 647h1M645 647h1M648 647h1M651 647h2M654 647h1M660 647h1M665 647h1M668 647h1M670 647h2M681 647h1M687 647h1M697 647h1M239 648h4M513 648h1M554 648h1M582 648h1M585 648h1M605 648h1M619 648h1M622 648h2M625 648h1M628 648h2M631 648h3M635 648h1M642 648h1M645 648h2M652 648h1M655 648h1M662 648h1M669 648h1M681 648h1M685 648h1M689 648h2M696 648h1M239 649h5M529 649h2M537 649h1M560 649h1M586 649h1M601 649h1M620 649h1M624 649h1M628 649h1M630 649h3M637 649h3M646 649h1M650 649h1M652 649h1M660 649h1M676 649h1M680 649h1M685 649h1M688 649h1M691 649h1M693 649h1M239 650h4M534 650h1M537 650h1M540 650h1M550 650h1M577 650h1M619 650h1M625 650h1M628 650h1M632 650h3M637 650h2M644 650h3M649 650h1M653 650h1M657 650h1M665 650h1M671 650h1M676 650h1M681 650h1M683 650h1M688 650h1M696 650h1M700 650h1M239 651h4M526 651h1M539 651h1M545 651h1M552 651h1M571 651h1M619 651h1M627 651h1M630 651h1M632 651h1M638 651h1M641 651h3M645 651h1M647 651h2M652 651h1M655 651h1M657 651h1M659 651h1M663 651h1M665 651h1M667 651h1M672 651h1M680 651h1M682 651h2M685 651h1M687 651h1M690 651h2M694 651h1M239 652h3M539 652h1M547 652h2M561 652h1M579 652h1M600 652h1M629 652h2M634 652h2M638 652h1M640 652h1M643 652h1M647 652h3M654 652h1M656 652h6M663 652h4M668 652h1M670 652h1M675 652h2M682 652h1M692 652h1M239 653h3M526 653h1M546 653h1M624 653h1M626 653h3M630 653h1M633 653h1M636 653h1M638 653h3M646 653h2M651 653h1M655 653h1M658 653h1M660 653h1M662 653h2M665 653h1M668 653h3M673 653h2M676 653h2M682 653h1M686 653h1M695 653h1M698 653h1M239 654h4M551 654h1M561 654h1M630 654h6M637 654h1M639 654h1M646 654h1M658 654h1M660 654h1M666 654h1M670 654h4M675 654h1M677 654h1M680 654h1M683 654h2M693 654h1M701 654h1M239 655h1M241 655h1M591 655h1M621 655h1M627 655h1M631 655h1M633 655h4M638 655h1M640 655h1M642 655h1M650 655h1M653 655h1M656 655h2M666 655h1M669 655h2M678 655h2M683 655h1M685 655h1M691 655h1M695 655h2M239 656h1M241 656h1M573 656h1M619 656h1M626 656h1M629 656h1M634 656h3M638 656h1M640 656h1M642 656h1M651 656h1M655 656h2M666 656h1M668 656h1M674 656h1M678 656h1M680 656h1M688 656h1M690 656h1M693 656h3M708 656h1M239 657h4M622 657h1M633 657h1M638 657h3M643 657h1M653 657h3M658 657h1M660 657h1M664 657h3M670 657h2M675 657h1M679 657h1M687 657h2M690 657h1M693 657h2M710 657h1M239 658h3M635 658h1M637 658h4M649 658h1M651 658h1M657 658h1M660 658h3M664 658h2M675 658h1M678 658h1M683 658h3M687 658h1M693 658h1M695 658h2M710 658h1M239 659h3M623 659h1M631 659h1M636 659h1M638 659h2M643 659h2M649 659h1M651 659h2M657 659h1M661 659h1M663 659h2M666 659h3M673 659h1M681 659h1M685 659h1M688 659h1M690 659h1M692 659h1M706 659h1M239 660h3M637 660h2M654 660h2M659 660h2M663 660h1M665 660h1M670 660h1M673 660h1M676 660h1M680 660h1M682 660h1M687 660h1M690 660h1M695 660h1M239 661h1M241 661h2M631 661h2M645 661h1M655 661h1M658 661h3M662 661h2M669 661h1M671 661h1M688 661h1M695 661h1M698 661h1M708 661h1M239 662h4M625 662h1M631 662h2M635 662h1M639 662h1M641 662h1M647 662h1M654 662h1M661 662h1M663 662h1M665 662h4M671 662h1M684 662h1M687 662h1M696 662h1M239 663h2M632 663h1M634 663h1M638 663h1M640 663h1M642 663h1M651 663h1M654 663h3M664 663h1M669 663h3M673 663h1M675 663h4M691 663h1M700 663h1M709 663h1M239 664h1M241 664h1M617 664h1M636 664h2M639 664h2M657 664h1M659 664h1M661 664h1M665 664h6M672 664h1M676 664h1M679 664h1M682 664h3M688 664h1M693 664h1M698 664h2M701 664h1M703 664h1M239 665h2M242 665h1M623 665h1M625 665h1M631 665h2M635 665h1M639 665h1M643 665h1M645 665h2M648 665h1M651 665h1M663 665h2M666 665h1M668 665h3M673 665h2M677 665h3M683 665h2M688 665h1M701 665h1M239 666h2M623 666h1M638 666h1M640 666h1M654 666h1M659 666h2M662 666h1M664 666h1M666 666h1M669 666h1M671 666h2M682 666h2M685 666h1M687 666h1M699 666h1M701 666h1M714 666h1M239 667h2M614 667h1M631 667h1M633 667h1M635 667h1M637 667h1M642 667h2M656 667h1M658 667h1M661 667h1M664 667h1M667 667h1M669 667h2M672 667h1M678 667h1M683 667h2M686 667h1M701 667h1M712 667h1M239 668h3M632 668h1M638 668h1M640 668h1M650 668h1M652 668h1M659 668h1M662 668h1M664 668h1M672 668h3M677 668h1M679 668h1M682 668h2M690 668h1M692 668h1M697 668h1M699 668h1M239 669h1M630 669h1M638 669h1M646 669h3M651 669h1M653 669h1M656 669h1M661 669h5M667 669h1M670 669h2M674 669h1M677 669h1M681 669h1M683 669h4M690 669h1M697 669h1M239 670h2M242 670h1M648 670h1M655 670h1M663 670h1M667 670h1M672 670h1M679 670h1M682 670h1M690 670h2M693 670h1M696 670h2M701 670h1M239 671h2M611 671h1M619 671h1M626 671h1M632 671h1M640 671h1M644 671h1M653 671h2M658 671h1M660 671h1M667 671h1M673 671h1M675 671h1M679 671h1M683 671h1M687 671h2M692 671h2M695 671h1M702 671h1M239 672h2M242 672h1M614 672h1M618 672h1M637 672h1M641 672h1M645 672h1M652 672h1M654 672h1M666 672h1M668 672h1M670 672h1M673 672h1M675 672h1M678 672h1M680 672h2M683 672h1M713 672h1M722 672h1M239 673h2M615 673h2M637 673h2M645 673h1M654 673h1M661 673h2M664 673h1M671 673h2M674 673h1M678 673h1M680 673h1M682 673h3M689 673h1M693 673h1M239 674h2M605 674h1M619 674h1M625 674h1M628 674h2M641 674h1M644 674h1M647 674h1M649 674h1M652 674h1M661 674h1M663 674h1M667 674h1M669 674h1M672 674h1M683 674h1M689 674h1M691 674h1M695 674h1M703 674h1M238 675h2M620 675h1M630 675h1M635 675h1M637 675h1M644 675h1M646 675h5M652 675h1M660 675h1M662 675h1M665 675h1M667 675h2M672 675h2M676 675h1M680 675h1M687 675h2M695 675h2M238 676h2M241 676h1M618 676h1M635 676h2M641 676h1M650 676h2M655 676h1M660 676h1M662 676h1M664 676h1M667 676h1M671 676h2M678 676h1M681 676h1M683 676h1M686 676h1M688 676h1M694 676h1M696 676h1M238 677h2M242 677h1M625 677h1M629 677h1M635 677h1M641 677h1M645 677h1M649 677h1M661 677h1M664 677h2M667 677h4M674 677h2M679 677h1M681 677h1M688 677h1M692 677h1M694 677h1M238 678h2M617 678h1M628 678h2M631 678h1M634 678h2M637 678h1M639 678h1M646 678h1M650 678h2M653 678h1M657 678h1M660 678h3M664 678h1M669 678h4M675 678h1M679 678h3M685 678h2M691 678h1M695 678h2M699 678h1M703 678h1M714 678h1M238 679h2M607 679h1M612 679h1M624 679h1M626 679h1M632 679h1M634 679h2M643 679h1M645 679h1M648 679h1M655 679h1M659 679h1M662 679h1M665 679h2M668 679h2M687 679h1M689 679h1M238 680h2M597 680h1M600 680h1M614 680h1M634 680h1M649 680h1M651 680h2M654 680h1M662 680h1M670 680h7M680 680h1M688 680h1M690 680h2M696 680h1M699 680h1M711 680h1M238 681h2M617 681h1M623 681h1M625 681h2M645 681h1M654 681h1M658 681h3M664 681h1M669 681h1M671 681h1M675 681h3M679 681h2M687 681h1M696 681h2M714 681h1M238 682h2M599 682h1M611 682h1M629 682h1M635 682h1M639 682h1M654 682h1M660 682h1M664 682h1M669 682h1M675 682h2M678 682h1M680 682h2M685 682h1M688 682h2M691 682h2M699 682h1M238 683h2M617 683h1M622 683h1M625 683h1M628 683h1M640 683h1M643 683h1M654 683h1M656 683h1M658 683h1M661 683h1M665 683h1M674 683h1M687 683h1M695 683h1M698 683h1M702 683h1M705 683h1M708 683h1M238 684h2M635 684h1M643 684h1M646 684h1M648 684h1M651 684h2M654 684h1M657 684h1M659 684h2M663 684h2M671 684h3M675 684h2M678 684h1M683 684h1M685 684h1M689 684h2M695 684h3M238 685h2M588 685h1M604 685h1M634 685h1M638 685h1M641 685h1M651 685h2M657 685h1M665 685h4M672 685h1M674 685h2M678 685h3M682 685h2M685 685h2M688 685h1M692 685h1M694 685h1M238 686h2M648 686h1M652 686h1M657 686h1M659 686h2M662 686h2M665 686h1M667 686h1M670 686h1M672 686h1M676 686h1M680 686h1M687 686h3M691 686h1M693 686h2M703 686h2M707 686h1M710 686h1M238 687h2M636 687h1M643 687h1M650 687h4M663 687h2M666 687h5M672 687h1M681 687h2M684 687h2M690 687h1M697 687h2M702 687h2M238 688h2M625 688h1M635 688h1M643 688h1M653 688h1M656 688h1M663 688h4M668 688h1M670 688h2M674 688h1M681 688h1M686 688h2M689 688h1M701 688h1M703 688h1M708 688h1M238 689h2M593 689h1M637 689h1M649 689h1M654 689h2M658 689h3M664 689h3M668 689h1M676 689h1M681 689h2M684 689h2M690 689h2M693 689h1M701 689h1M710 689h1M238 690h2M620 690h1M622 690h1M628 690h1M633 690h1M637 690h1M649 690h1M654 690h1M656 690h1M661 690h1M664 690h1M666 690h1M669 690h1M673 690h1M686 690h1M690 690h1M701 690h1M238 691h2M630 691h1M637 691h2M648 691h1M656 691h1M659 691h1M661 691h1M663 691h3M667 691h1M669 691h1M675 691h2M686 691h3M693 691h2M703 691h1M238 692h2M603 692h1M623 692h1M626 692h2M637 692h1M643 692h1M647 692h1M655 692h1M660 692h1M663 692h1M665 692h1M668 692h1M670 692h1M678 692h2M683 692h1M686 692h1M691 692h1M697 692h1M703 692h1M238 693h2M627 693h1M633 693h1M644 693h1M649 693h1M652 693h1M655 693h3M663 693h1M668 693h2M674 693h2M678 693h2M682 693h1M686 693h2M690 693h1M697 693h1M238 694h2M613 694h1M658 694h1M660 694h2M663 694h2M666 694h3M674 694h1M676 694h2M679 694h1M684 694h1M691 694h1M693 694h1M698 694h1M700 694h2M238 695h2M612 695h1M617 695h1M621 695h1M646 695h1M648 695h1M654 695h1M657 695h1M660 695h2M663 695h1M666 695h1M670 695h1M675 695h1M677 695h1M680 695h2M683 695h1M685 695h1M687 695h1M689 695h1M693 695h2M696 695h1M698 695h1M238 696h2M629 696h2M636 696h1M638 696h1M644 696h1M646 696h1M648 696h2M662 696h1M668 696h2M672 696h1M682 696h2M686 696h1M700 696h1M702 696h1M707 696h1M238 697h2M622 697h1M637 697h1M645 697h1M649 697h1M660 697h1M662 697h3M666 697h1M671 697h1M679 697h1M682 697h1M684 697h1M686 697h2M689 697h1M693 697h1M695 697h1M700 697h2M704 697h1M238 698h2M242 698h1M615 698h1M650 698h1M655 698h1M657 698h1M660 698h2M666 698h1M668 698h2M671 698h1M673 698h3M681 698h2M704 698h1M238 699h2M608 699h1M624 699h1M642 699h2M646 699h1M655 699h3M670 699h4M677 699h1M686 699h1M688 699h1M693 699h1M709 699h1M238 700h2M618 700h1M629 700h1M633 700h1M637 700h1M649 700h1M658 700h2M664 700h3M668 700h1M674 700h1M677 700h1M680 700h1M682 700h2M685 700h1M689 700h1M691 700h2M696 700h1M698 700h1M238 701h2M589 701h1M637 701h2M643 701h1M648 701h3M653 701h1M659 701h4M664 701h1M669 701h1M672 701h1M677 701h1M680 701h1M687 701h2M707 701h1M238 702h2M631 702h1M641 702h1M648 702h1M654 702h3M659 702h1M663 702h1M665 702h1M667 702h1M669 702h1M672 702h1M674 702h1M680 702h1M684 702h1M695 702h1M703 702h1M238 703h2M609 703h1M624 703h1M631 703h1M647 703h1M654 703h1M665 703h2M675 703h1M677 703h3M684 703h1M687 703h1M696 703h2M699 703h1M708 703h1M238 704h2M631 704h1M633 704h1M641 704h1M643 704h1M648 704h1M652 704h1M654 704h1M656 704h1M666 704h1M668 704h2M681 704h1M693 704h2M701 704h1M238 705h2M242 705h1M623 705h1M640 705h1M646 705h1M649 705h3M659 705h2M662 705h1M666 705h1M668 705h2M674 705h1M676 705h1M679 705h3M685 705h1M690 705h1M692 705h1M695 705h1M698 705h3M238 706h2M641 706h2M649 706h1M657 706h1M664 706h1M667 706h1M673 706h1M683 706h1M690 706h1M695 706h1M238 707h2M588 707h1M591 707h1M619 707h2M633 707h1M638 707h1M642 707h3M647 707h1M652 707h1M654 707h1M658 707h1M662 707h1M668 707h3M674 707h1M677 707h1M679 707h2M686 707h1M689 707h1M692 707h1M698 707h2M701 707h1M238 708h2M587 708h1M592 708h1M595 708h1M597 708h1M599 708h1M634 708h1M644 708h1M646 708h1M648 708h2M651 708h1M655 708h3M659 708h1M662 708h2M674 708h1M679 708h1M682 708h1M685 708h1M703 708h1M870 708h1M238 709h2M631 709h1M654 709h2M657 709h3M661 709h1M667 709h1M671 709h1M673 709h1M677 709h1M682 709h2M689 709h1M694 709h1M703 709h1M238 710h2M613 710h1M615 710h1M617 710h1M624 710h2M640 710h2M646 710h1M657 710h2M662 710h1M666 710h1M668 710h2M671 710h1M675 710h1M679 710h5M685 710h1M688 710h4M696 710h1M700 710h1M238 711h2M631 711h1M640 711h1M646 711h1M659 711h2M667 711h1M675 711h1M678 711h1M682 711h1M685 711h1M692 711h2M695 711h1M238 712h2M614 712h1M622 712h1M632 712h1M634 712h1M641 712h1M652 712h1M655 712h2M659 712h3M673 712h1M682 712h1M685 712h2M689 712h1M694 712h1M697 712h1M238 713h2M242 713h1M607 713h1M612 713h1M627 713h1M633 713h1M638 713h1M641 713h1M649 713h1M658 713h1M660 713h2M664 713h4M669 713h2M677 713h1M680 713h1M683 713h2M689 713h1M692 713h2M697 713h1M701 713h1M238 714h2M636 714h1M640 714h1M642 714h1M660 714h1M663 714h2M673 714h1M698 714h1M238 715h1M596 715h1M625 715h1M649 715h1M652 715h1M655 715h1M657 715h2M660 715h1M662 715h2M665 715h2M670 715h2M674 715h2M679 715h1M682 715h1M686 715h1M691 715h1M696 715h1M703 715h1M238 716h1M241 716h1M621 716h1M625 716h1M641 716h1M644 716h1M648 716h1M650 716h1M653 716h1M655 716h1M659 716h1M663 716h1M665 716h1M668 716h1M673 716h1M679 716h1M684 716h1M700 716h1M705 716h1M577 717h1M585 717h1M626 717h1M630 717h1M643 717h2M652 717h1M654 717h1M658 717h1M665 717h3M670 717h2M673 717h1M676 717h2M679 717h2M683 717h3M687 717h2M692 717h1M694 717h1M701 717h1M570 718h1M583 718h2M592 718h1M598 718h1M610 718h1M612 718h2M617 718h1M628 718h1M633 718h1M635 718h1M639 718h1M644 718h1M648 718h1M653 718h3M661 718h1M665 718h2M669 718h3M673 718h1M675 718h1M678 718h1M681 718h1M684 718h2M688 718h1M693 718h1M574 719h1M586 719h1M589 719h1M609 719h1M612 719h1M625 719h1M633 719h1M638 719h1M650 719h1M652 719h1M661 719h1M663 719h1M666 719h1M668 719h3M672 719h2M678 719h1M683 719h2M687 719h1M693 719h1M697 719h1M705 719h1M929 719h1M590 720h1M592 720h1M610 720h1M614 720h1M621 720h1M629 720h1M631 720h1M636 720h1M649 720h1M657 720h1M660 720h1M662 720h1M664 720h1M667 720h1M673 720h1M677 720h1M684 720h1M692 720h1M698 720h1M703 720h2M707 720h1M574 721h1M585 721h1M597 721h1M608 721h1M611 721h1M629 721h1M633 721h1M636 721h1M642 721h1M646 721h4M653 721h1M655 721h1M659 721h1M661 721h1M664 721h1M667 721h1M673 721h2M676 721h1M681 721h1M686 721h1M690 721h1M695 721h2M581 722h1M592 722h1M600 722h1M608 722h1M610 722h2M620 722h1M629 722h1M636 722h1M639 722h1M645 722h2M650 722h1M654 722h7M667 722h1M671 722h1M673 722h1M676 722h2M680 722h2M683 722h1M699 722h1M570 723h1M580 723h1M583 723h1M610 723h1M621 723h1M632 723h1M643 723h1M645 723h1M651 723h2M657 723h1M662 723h2M668 723h1M670 723h2M674 723h2M678 723h1M681 723h3M694 723h2M700 723h1M705 723h1M569 724h1M576 724h1M592 724h1M599 724h1M604 724h1M611 724h1M635 724h1M640 724h3M649 724h1M653 724h1M656 724h1M662 724h1M668 724h1M674 724h2M678 724h1M682 724h2M685 724h1M688 724h1M695 724h1M575 725h1M591 725h1M619 725h1M631 725h1M636 725h1M646 725h1M652 725h2M656 725h1M667 725h2M673 725h1M678 725h1M688 725h1M690 725h1M700 725h1M569 726h1M571 726h1M573 726h1M588 726h1M602 726h1M609 726h1M623 726h1M630 726h1M635 726h2M645 726h1M647 726h1M650 726h1M652 726h1M660 726h1M662 726h1M665 726h1M667 726h1M669 726h2M672 726h2M675 726h1M677 726h2M680 726h1M684 726h2M703 726h1M705 726h1M707 726h1M570 727h1M572 727h1M574 727h1M584 727h1M592 727h1M610 727h1M621 727h1M624 727h1M632 727h1M635 727h1M641 727h1M643 727h2M649 727h1M651 727h1M655 727h1M659 727h1M663 727h1M667 727h1M669 727h2M673 727h2M676 727h1M679 727h1M681 727h1M685 727h1M687 727h2M691 727h1M694 727h1M697 727h1M702 727h3M586 728h1M602 728h1M630 728h1M636 728h1M641 728h1M647 728h1M653 728h3M657 728h1M660 728h1M662 728h1M664 728h2M667 728h1M670 728h2M673 728h1M676 728h1M678 728h1M684 728h2M687 728h1M693 728h1M695 728h1M700 728h1M570 729h1M579 729h1M602 729h1M612 729h1M624 729h1M628 729h1M631 729h2M636 729h1M638 729h1M645 729h3M649 729h1M651 729h1M653 729h1M657 729h2M661 729h1M667 729h3M671 729h3M682 729h3M695 729h1M700 729h1M702 729h1M584 730h1M598 730h1M610 730h1M623 730h1M625 730h1M639 730h1M641 730h1M648 730h3M655 730h1M663 730h2M667 730h2M670 730h1M672 730h1M676 730h1M678 730h2M688 730h1M571 731h1M580 731h1M588 731h1M606 731h1M641 731h1M643 731h2M646 731h1M650 731h2M654 731h1M658 731h1M666 731h2M669 731h3M673 731h2M676 731h1M680 731h1M711 731h1M597 732h1M601 732h1M609 732h1M614 732h1M616 732h1M629 732h1M632 732h3M643 732h2M649 732h1M651 732h3M655 732h2M659 732h1M661 732h1M668 732h1M672 732h2M676 732h2M683 732h1M685 732h2M692 732h1M697 732h1M571 733h1M574 733h1M578 733h1M588 733h1M593 733h1M601 733h1M611 733h1M614 733h2M620 733h1M626 733h1M628 733h1M631 733h1M639 733h1M646 733h1M648 733h1M650 733h1M652 733h1M660 733h1M662 733h1M664 733h1M670 733h1M677 733h1M681 733h1M685 733h1M688 733h1M691 733h3M576 734h1M583 734h1M601 734h1M611 734h1M617 734h1M632 734h3M637 734h1M639 734h1M644 734h1M651 734h2M654 734h3M659 734h1M661 734h2M664 734h1M666 734h1M669 734h2M672 734h1M676 734h4M681 734h1M685 734h1M687 734h1M690 734h1M692 734h2M605 735h1M608 735h1M632 735h1M635 735h1M643 735h2M647 735h3M654 735h1M656 735h1M658 735h2M663 735h2M666 735h1M669 735h4M674 735h1M677 735h1M680 735h1M682 735h1M688 735h3M694 735h1M572 736h1M578 736h1M581 736h1M588 736h1M619 736h1M625 736h1M629 736h1M633 736h1M643 736h1M647 736h3M652 736h1M656 736h3M662 736h1M665 736h1M667 736h1M678 736h2M682 736h2M691 736h1M698 736h1M704 736h1M572 737h1M576 737h1M591 737h2M595 737h1M609 737h1M616 737h1M630 737h1M632 737h1M634 737h2M638 737h1M645 737h2M648 737h1M652 737h1M655 737h1M657 737h2M660 737h1M666 737h3M671 737h1M675 737h2M678 737h1M682 737h2M685 737h2M692 737h1M569 738h1M580 738h1M585 738h1M588 738h1M590 738h1M600 738h1M607 738h1M630 738h1M632 738h1M635 738h1M638 738h1M640 738h1M649 738h1M655 738h1M657 738h1M666 738h2M669 738h1M672 738h1M677 738h3M687 738h2M695 738h2M571 739h1M582 739h1M591 739h1M610 739h1M616 739h2M622 739h1M641 739h1M646 739h2M651 739h1M660 739h3M665 739h1M672 739h1M676 739h1M678 739h1M688 739h1M695 739h1M550 740h1M553 740h1M555 740h1M562 740h1M573 740h1M577 740h1M581 740h1M583 740h1M591 740h3M597 740h4M602 740h4M607 740h3M612 740h2M615 740h1M617 740h1M619 740h5M625 740h2M628 740h2M631 740h2M636 740h1M638 740h1M640 740h3M645 740h4M650 740h6M658 740h1M660 740h4M665 740h3M669 740h5M676 740h1M678 740h2M681 740h1M685 740h4M690 740h1M692 740h3M700 740h1M707 740h1M713 740h1M929 741h1M648 743h1M666 743h1M929 744h1M682 745h1M637 746h1M623 750h1M660 750h1M686 753h1M646 754h1M676 755h1M682 757h1M241 758h1M614 758h1M626 761h1M646 761h1M612 764h1M650 764h1M607 766h1M601 767h1" stroke="#000" stroke-width="1" fill="none" shape-rendering="crispEdges"/>
<path transform="translate(0 .5)" d="M929 608h1M929 609h1M929 610h1M929 611h1M929 612h1M929 613h1M929 614h1M929 615h1M929 616h1M929 617h1M929 618h1M929 619h1M929 620h1M929 621h1M929 622h1M929 623h1M929 624h1M929 625h1M929 626h1M929 627h1M929 628h1M929 629h1M929 630h1M929 631h1M929 632h1M929 633h1M929 634h1M929 635h1M929 636h1M929 637h1M929 638h1M929 639h1M929 640h1M929 641h1M929 642h1M929 643h1M929 644h1M929 645h1M929 646h1M929 647h1M929 648h1M929 649h1M929 650h1M929 651h1M929 652h1M929 653h1M929 654h1M929 655h1M929 656h1M929 657h1M929 658h1M929 659h1M929 660h1M929 661h1M929 662h1M929 663h1M929 664h1M929 665h1M929 666h1M929 667h1M929 668h1M929 669h1M929 670h1M929 671h1M929 672h1M929 673h1M929 674h1M929 675h1M929 676h1M929 677h1M929 678h1M929 679h1M929 680h1M929 681h1M929 682h1M929 683h1M929 684h1M929 685h1M929 686h1M929 687h1M929 688h1M929 689h1M929 690h1M929 691h1M929 692h1M929 693h1M929 694h1M929 695h1M929 696h1M929 697h1M929 698h1M929 699h1M929 700h1M929 701h1M929 702h1M870 725h1M929 749h1M929 761h1" stroke="#a6a6a6" stroke-width="1" fill="none" shape-rendering="crispEdges"/>
<g stroke="#262626" stroke-width="1" fill="none"><rect x="151.5" y="89.5" width="248.0" height="162.0"/><path d="M175.50 89.5v2.6M175.50 251.5v-2.6M223.50 89.5v2.6M223.50 251.5v-2.6M270.50 89.5v2.6M270.50 251.5v-2.6M318.50 89.5v2.6M318.50 251.5v-2.6M365.50 89.5v2.6M365.50 251.5v-2.6M151.5 91.50h2.6M399.5 91.50h-2.6M151.5 139.50h2.6M399.5 139.50h-2.6M151.5 187.50h2.6M399.5 187.50h-2.6M151.5 236.50h2.6M399.5 236.50h-2.6"/></g>
<text x="175.80" y="79.50" font-size="15.27" text-anchor="middle" textLength="19.00" lengthAdjust="spacingAndGlyphs" fill="#262626">10</text>
<text x="223.30" y="79.50" font-size="15.27" text-anchor="middle" textLength="19.00" lengthAdjust="spacingAndGlyphs" fill="#262626">11</text>
<text x="270.80" y="79.50" font-size="15.27" text-anchor="middle" textLength="19.00" lengthAdjust="spacingAndGlyphs" fill="#262626">12</text>
<text x="318.30" y="79.50" font-size="15.27" text-anchor="middle" textLength="19.00" lengthAdjust="spacingAndGlyphs" fill="#262626">13</text>
<text x="365.80" y="79.50" font-size="15.27" text-anchor="middle" textLength="19.00" lengthAdjust="spacingAndGlyphs" fill="#262626">14</text>
<text x="145.50" y="96.00" font-size="15.27" text-anchor="end" textLength="9.50" lengthAdjust="spacingAndGlyphs" fill="#262626">0</text>
<text x="145.50" y="144.40" font-size="15.27" text-anchor="end" textLength="19.00" lengthAdjust="spacingAndGlyphs" fill="#262626">20</text>
<text x="145.50" y="192.80" font-size="15.27" text-anchor="end" textLength="19.00" lengthAdjust="spacingAndGlyphs" fill="#262626">40</text>
<text x="145.50" y="241.20" font-size="15.27" text-anchor="end" textLength="19.00" lengthAdjust="spacingAndGlyphs" fill="#262626">60</text>
<text x="275.50" y="60.60" font-size="16.80" text-anchor="middle" textLength="75.00" lengthAdjust="spacingAndGlyphs" fill="#262626">Temp (C)</text>
<text x="117.70" y="171.00" font-size="16.80" text-anchor="middle" textLength="49.98" lengthAdjust="spacingAndGlyphs" fill="#262626" transform="rotate(-90 117.70 171.00)">Depth</text>
<g stroke="#262626" stroke-width="1" fill="none"><rect x="477.5" y="89.5" width="249.0" height="162.0"/><path d="M487.50 89.5v2.6M487.50 251.5v-2.6M578.50 89.5v2.6M578.50 251.5v-2.6M669.50 89.5v2.6M669.50 251.5v-2.6M477.5 91.50h2.6M726.5 91.50h-2.6M477.5 139.50h2.6M726.5 139.50h-2.6M477.5 187.50h2.6M726.5 187.50h-2.6M477.5 236.50h2.6M726.5 236.50h-2.6"/></g>
<text x="487.80" y="79.50" font-size="15.27" text-anchor="middle" textLength="33.25" lengthAdjust="spacingAndGlyphs" fill="#262626">32.5</text>
<text x="578.90" y="79.50" font-size="15.27" text-anchor="middle" textLength="19.00" lengthAdjust="spacingAndGlyphs" fill="#262626">33</text>
<text x="670.00" y="79.50" font-size="15.27" text-anchor="middle" textLength="33.25" lengthAdjust="spacingAndGlyphs" fill="#262626">33.5</text>
<text x="471.50" y="96.00" font-size="15.27" text-anchor="end" textLength="9.50" lengthAdjust="spacingAndGlyphs" fill="#262626">0</text>
<text x="471.50" y="144.40" font-size="15.27" text-anchor="end" textLength="19.00" lengthAdjust="spacingAndGlyphs" fill="#262626">20</text>
<text x="471.50" y="192.80" font-size="15.27" text-anchor="end" textLength="19.00" lengthAdjust="spacingAndGlyphs" fill="#262626">40</text>
<text x="471.50" y="241.20" font-size="15.27" text-anchor="end" textLength="19.00" lengthAdjust="spacingAndGlyphs" fill="#262626">60</text>
<text x="602.00" y="60.60" font-size="16.80" text-anchor="middle" textLength="61.00" lengthAdjust="spacingAndGlyphs" fill="#262626">Salinity</text>
<g stroke="#262626" stroke-width="1" fill="none"><rect x="804.5" y="89.5" width="249.0" height="162.0"/><path d="M841.50 89.5v2.6M841.50 251.5v-2.6M892.50 89.5v2.6M892.50 251.5v-2.6M943.50 89.5v2.6M943.50 251.5v-2.6M993.50 89.5v2.6M993.50 251.5v-2.6M1044.50 89.5v2.6M1044.50 251.5v-2.6M804.5 90.50h2.6M1053.5 90.50h-2.6M804.5 140.50h2.6M1053.5 140.50h-2.6M804.5 191.50h2.6M1053.5 191.50h-2.6M804.5 241.50h2.6M1053.5 241.50h-2.6"/></g>
<text x="841.80" y="79.50" font-size="15.27" text-anchor="middle" textLength="28.50" lengthAdjust="spacingAndGlyphs" fill="#262626">-0.4</text>
<text x="892.55" y="79.50" font-size="15.27" text-anchor="middle" textLength="28.50" lengthAdjust="spacingAndGlyphs" fill="#262626">-0.3</text>
<text x="943.30" y="79.50" font-size="15.27" text-anchor="middle" textLength="28.50" lengthAdjust="spacingAndGlyphs" fill="#262626">-0.2</text>
<text x="994.05" y="79.50" font-size="15.27" text-anchor="middle" textLength="28.50" lengthAdjust="spacingAndGlyphs" fill="#262626">-0.1</text>
<text x="1044.80" y="79.50" font-size="15.27" text-anchor="middle" textLength="9.50" lengthAdjust="spacingAndGlyphs" fill="#262626">0</text>
<text x="798.50" y="95.50" font-size="15.27" text-anchor="end" textLength="9.50" lengthAdjust="spacingAndGlyphs" fill="#262626">0</text>
<text x="798.50" y="145.83" font-size="15.27" text-anchor="end" textLength="19.00" lengthAdjust="spacingAndGlyphs" fill="#262626">20</text>
<text x="798.50" y="196.16" font-size="15.27" text-anchor="end" textLength="19.00" lengthAdjust="spacingAndGlyphs" fill="#262626">40</text>
<text x="798.50" y="246.49" font-size="15.27" text-anchor="end" textLength="19.00" lengthAdjust="spacingAndGlyphs" fill="#262626">60</text>
<text x="929.00" y="60.60" font-size="16.80" text-anchor="middle" textLength="128.00" lengthAdjust="spacingAndGlyphs" fill="#262626">HS2 Fluor (NFU)</text>
<g stroke="#262626" stroke-width="1" fill="none"><rect x="151.5" y="348.5" width="248.0" height="161.0"/><path d="M203.50 348.5v2.6M203.50 509.5v-2.6M261.50 348.5v2.6M261.50 509.5v-2.6M318.50 348.5v2.6M318.50 509.5v-2.6M376.50 348.5v2.6M376.50 509.5v-2.6M151.5 349.50h2.6M399.5 349.50h-2.6M151.5 395.50h2.6M399.5 395.50h-2.6M151.5 441.50h2.6M399.5 441.50h-2.6M151.5 487.50h2.6M399.5 487.50h-2.6"/></g>
<text x="203.80" y="338.50" font-size="15.27" text-anchor="middle" textLength="9.50" lengthAdjust="spacingAndGlyphs" fill="#262626">5</text>
<text x="261.40" y="338.50" font-size="15.27" text-anchor="middle" textLength="9.50" lengthAdjust="spacingAndGlyphs" fill="#262626">6</text>
<text x="319.00" y="338.50" font-size="15.27" text-anchor="middle" textLength="9.50" lengthAdjust="spacingAndGlyphs" fill="#262626">7</text>
<text x="376.60" y="338.50" font-size="15.27" text-anchor="middle" textLength="9.50" lengthAdjust="spacingAndGlyphs" fill="#262626">8</text>
<text x="145.50" y="354.50" font-size="15.27" text-anchor="end" textLength="9.50" lengthAdjust="spacingAndGlyphs" fill="#262626">0</text>
<text x="145.50" y="400.50" font-size="15.27" text-anchor="end" textLength="19.00" lengthAdjust="spacingAndGlyphs" fill="#262626">20</text>
<text x="145.50" y="446.50" font-size="15.27" text-anchor="end" textLength="19.00" lengthAdjust="spacingAndGlyphs" fill="#262626">40</text>
<text x="145.50" y="492.50" font-size="15.27" text-anchor="end" textLength="19.00" lengthAdjust="spacingAndGlyphs" fill="#262626">60</text>
<text x="275.50" y="319.60" font-size="16.80" text-anchor="middle" textLength="132.00" lengthAdjust="spacingAndGlyphs" fill="#262626">CTD1 Oxy (ml/l)</text>
<text x="117.70" y="429.50" font-size="16.80" text-anchor="middle" textLength="49.98" lengthAdjust="spacingAndGlyphs" fill="#262626" transform="rotate(-90 117.70 429.50)">Depth</text>
<g stroke="#262626" stroke-width="1" fill="none"><rect x="477.5" y="348.5" width="249.0" height="161.0"/><path d="M484.50 348.5v2.6M484.50 509.5v-2.6M535.50 348.5v2.6M535.50 509.5v-2.6M587.50 348.5v2.6M587.50 509.5v-2.6M638.50 348.5v2.6M638.50 509.5v-2.6M689.50 348.5v2.6M689.50 509.5v-2.6M477.5 349.50h2.6M726.5 349.50h-2.6M477.5 387.50h2.6M726.5 387.50h-2.6M477.5 425.50h2.6M726.5 425.50h-2.6M477.5 463.50h2.6M726.5 463.50h-2.6M477.5 501.50h2.6M726.5 501.50h-2.6"/></g>
<text x="484.60" y="338.50" font-size="15.27" text-anchor="middle" textLength="33.25" lengthAdjust="spacingAndGlyphs" fill="#262626">-100</text>
<text x="536.00" y="338.50" font-size="15.27" text-anchor="middle" textLength="9.50" lengthAdjust="spacingAndGlyphs" fill="#262626">0</text>
<text x="587.30" y="338.50" font-size="15.27" text-anchor="middle" textLength="28.50" lengthAdjust="spacingAndGlyphs" fill="#262626">100</text>
<text x="638.60" y="338.50" font-size="15.27" text-anchor="middle" textLength="28.50" lengthAdjust="spacingAndGlyphs" fill="#262626">200</text>
<text x="690.00" y="338.50" font-size="15.27" text-anchor="middle" textLength="28.50" lengthAdjust="spacingAndGlyphs" fill="#262626">300</text>
<text x="471.50" y="355.00" font-size="15.27" text-anchor="end" textLength="9.50" lengthAdjust="spacingAndGlyphs" fill="#262626">0</text>
<text x="471.50" y="392.07" font-size="15.27" text-anchor="end" textLength="19.00" lengthAdjust="spacingAndGlyphs" fill="#262626">10</text>
<text x="471.50" y="430.14" font-size="15.27" text-anchor="end" textLength="19.00" lengthAdjust="spacingAndGlyphs" fill="#262626">20</text>
<text x="471.50" y="468.21" font-size="15.27" text-anchor="end" textLength="19.00" lengthAdjust="spacingAndGlyphs" fill="#262626">30</text>
<text x="471.50" y="506.28" font-size="15.27" text-anchor="end" textLength="19.00" lengthAdjust="spacingAndGlyphs" fill="#262626">40</text>
<text x="602.00" y="319.60" font-size="16.80" text-anchor="middle" textLength="140.00" lengthAdjust="spacingAndGlyphs" fill="#262626">Nitrate (umol/kg)</text>
<g stroke="#262626" stroke-width="1" fill="none"><rect x="804.5" y="348.5" width="249.0" height="161.0"/><path d="M819.50 348.5v2.6M819.50 509.5v-2.6M897.50 348.5v2.6M897.50 509.5v-2.6M976.50 348.5v2.6M976.50 509.5v-2.6M804.5 349.50h2.6M1053.5 349.50h-2.6M804.5 399.50h2.6M1053.5 399.50h-2.6M804.5 449.50h2.6M1053.5 449.50h-2.6M804.5 499.50h2.6M1053.5 499.50h-2.6"/></g>
<text x="819.30" y="338.50" font-size="15.27" text-anchor="middle" textLength="38.00" lengthAdjust="spacingAndGlyphs" fill="#262626">-0.05</text>
<text x="898.00" y="338.50" font-size="15.27" text-anchor="middle" textLength="9.50" lengthAdjust="spacingAndGlyphs" fill="#262626">0</text>
<text x="976.70" y="338.50" font-size="15.27" text-anchor="middle" textLength="33.25" lengthAdjust="spacingAndGlyphs" fill="#262626">0.05</text>
<text x="798.50" y="354.70" font-size="15.27" text-anchor="end" textLength="9.50" lengthAdjust="spacingAndGlyphs" fill="#262626">0</text>
<text x="798.50" y="404.33" font-size="15.27" text-anchor="end" textLength="19.00" lengthAdjust="spacingAndGlyphs" fill="#262626">20</text>
<text x="798.50" y="454.66" font-size="15.27" text-anchor="end" textLength="19.00" lengthAdjust="spacingAndGlyphs" fill="#262626">40</text>
<text x="798.50" y="504.99" font-size="15.27" text-anchor="end" textLength="19.00" lengthAdjust="spacingAndGlyphs" fill="#262626">60</text>
<g stroke="#262626" stroke-width="1" fill="none"><rect x="151.5" y="607.5" width="248.0" height="162.0"/><path d="M166.50 607.5v2.6M166.50 769.5v-2.6M202.50 607.5v2.6M202.50 769.5v-2.6M237.50 607.5v2.6M237.50 769.5v-2.6M272.50 607.5v2.6M272.50 769.5v-2.6M308.50 607.5v2.6M308.50 769.5v-2.6M343.50 607.5v2.6M343.50 769.5v-2.6M379.50 607.5v2.6M379.50 769.5v-2.6M151.5 608.50h2.6M399.5 608.50h-2.6M151.5 658.50h2.6M399.5 658.50h-2.6M151.5 709.50h2.6M399.5 709.50h-2.6M151.5 759.50h2.6M399.5 759.50h-2.6"/></g>
<text x="166.90" y="597.50" font-size="15.27" text-anchor="middle" textLength="38.00" lengthAdjust="spacingAndGlyphs" fill="#262626">-0.04</text>
<text x="237.80" y="597.50" font-size="15.27" text-anchor="middle" textLength="9.50" lengthAdjust="spacingAndGlyphs" fill="#262626">0</text>
<text x="308.70" y="597.50" font-size="15.27" text-anchor="middle" textLength="33.25" lengthAdjust="spacingAndGlyphs" fill="#262626">0.04</text>
<text x="379.60" y="597.50" font-size="15.27" text-anchor="middle" textLength="33.25" lengthAdjust="spacingAndGlyphs" fill="#262626">0.08</text>
<text x="145.50" y="613.50" font-size="15.27" text-anchor="end" textLength="9.50" lengthAdjust="spacingAndGlyphs" fill="#262626">0</text>
<text x="145.50" y="663.83" font-size="15.27" text-anchor="end" textLength="19.00" lengthAdjust="spacingAndGlyphs" fill="#262626">20</text>
<text x="145.50" y="714.16" font-size="15.27" text-anchor="end" textLength="19.00" lengthAdjust="spacingAndGlyphs" fill="#262626">40</text>
<text x="145.50" y="764.49" font-size="15.27" text-anchor="end" textLength="19.00" lengthAdjust="spacingAndGlyphs" fill="#262626">60</text>
<text x="117.70" y="689.00" font-size="16.80" text-anchor="middle" textLength="49.98" lengthAdjust="spacingAndGlyphs" fill="#262626" transform="rotate(-90 117.70 689.00)">Depth</text>
<g stroke="#262626" stroke-width="1" fill="none"><rect x="477.5" y="607.5" width="249.0" height="162.0"/><path d="M537.50 607.5v2.6M537.50 769.5v-2.6M630.50 607.5v2.6M630.50 769.5v-2.6M723.50 607.5v2.6M723.50 769.5v-2.6M477.5 608.50h2.6M726.5 608.50h-2.6M477.5 645.50h2.6M726.5 645.50h-2.6M477.5 683.50h2.6M726.5 683.50h-2.6M477.5 721.50h2.6M726.5 721.50h-2.6M477.5 759.50h2.6M726.5 759.50h-2.6"/></g>
<text x="537.80" y="597.50" font-size="15.27" text-anchor="middle" textLength="9.50" lengthAdjust="spacingAndGlyphs" fill="#262626">0</text>
<text x="630.80" y="597.50" font-size="15.27" text-anchor="middle" textLength="9.50" lengthAdjust="spacingAndGlyphs" fill="#262626">2</text>
<text x="723.80" y="597.50" font-size="15.27" text-anchor="middle" textLength="9.50" lengthAdjust="spacingAndGlyphs" fill="#262626">4</text>
<text x="471.50" y="613.70" font-size="15.27" text-anchor="end" textLength="9.50" lengthAdjust="spacingAndGlyphs" fill="#262626">0</text>
<text x="471.50" y="650.85" font-size="15.27" text-anchor="end" textLength="19.00" lengthAdjust="spacingAndGlyphs" fill="#262626">10</text>
<text x="471.50" y="688.70" font-size="15.27" text-anchor="end" textLength="19.00" lengthAdjust="spacingAndGlyphs" fill="#262626">20</text>
<text x="471.50" y="726.55" font-size="15.27" text-anchor="end" textLength="19.00" lengthAdjust="spacingAndGlyphs" fill="#262626">30</text>
<text x="471.50" y="764.40" font-size="15.27" text-anchor="end" textLength="19.00" lengthAdjust="spacingAndGlyphs" fill="#262626">40</text>
<text x="602.00" y="578.60" font-size="16.80" text-anchor="middle" textLength="231.88" lengthAdjust="spacingAndGlyphs" fill="#262626">Biolume log10(photons/sec)</text>
<g stroke="#262626" stroke-width="1" fill="none"><rect x="804.5" y="607.5" width="249.0" height="162.0"/><path d="M804.50 607.5v2.6M804.50 769.5v-2.6M867.50 607.5v2.6M867.50 769.5v-2.6M929.50 607.5v2.6M929.50 769.5v-2.6M991.50 607.5v2.6M991.50 769.5v-2.6M1053.50 607.5v2.6M1053.50 769.5v-2.6M804.5 608.50h2.6M1053.5 608.50h-2.6M804.5 654.50h2.6M1053.5 654.50h-2.6M804.5 701.50h2.6M1053.5 701.50h-2.6M804.5 747.50h2.6M1053.5 747.50h-2.6"/></g>
<text x="804.80" y="597.50" font-size="15.27" text-anchor="middle" textLength="14.25" lengthAdjust="spacingAndGlyphs" fill="#262626">-1</text>
<text x="867.30" y="597.50" font-size="15.27" text-anchor="middle" textLength="28.50" lengthAdjust="spacingAndGlyphs" fill="#262626">-0.5</text>
<text x="929.80" y="597.50" font-size="15.27" text-anchor="middle" textLength="9.50" lengthAdjust="spacingAndGlyphs" fill="#262626">0</text>
<text x="991.80" y="597.50" font-size="15.27" text-anchor="middle" textLength="23.75" lengthAdjust="spacingAndGlyphs" fill="#262626">0.5</text>
<text x="1053.80" y="597.50" font-size="15.27" text-anchor="middle" textLength="9.50" lengthAdjust="spacingAndGlyphs" fill="#262626">1</text>
<text x="798.50" y="613.70" font-size="15.27" text-anchor="end" textLength="9.50" lengthAdjust="spacingAndGlyphs" fill="#262626">0</text>
<text x="798.50" y="659.60" font-size="15.27" text-anchor="end" textLength="19.00" lengthAdjust="spacingAndGlyphs" fill="#262626">20</text>
<text x="798.50" y="706.20" font-size="15.27" text-anchor="end" textLength="19.00" lengthAdjust="spacingAndGlyphs" fill="#262626">40</text>
<text x="798.50" y="752.80" font-size="15.27" text-anchor="end" textLength="19.00" lengthAdjust="spacingAndGlyphs" fill="#262626">60</text>
<text x="929.00" y="578.60" font-size="16.80" text-anchor="middle" textLength="95.00" lengthAdjust="spacingAndGlyphs" fill="#262626">Flow (Volts)</text>
<text x="873.80" y="320.10" font-size="16.80" text-anchor="start" textLength="90.20" lengthAdjust="spacingAndGlyphs" fill="#262626">bbp470 (m</text><text x="964.60" y="312.10" font-size="13.44" text-anchor="start" textLength="13.00" lengthAdjust="spacingAndGlyphs" fill="#262626">-1</text><text x="978.80" y="320.10" font-size="16.80" text-anchor="start" textLength="6.00" lengthAdjust="spacingAndGlyphs" fill="#262626">)</text>
<text x="220.30" y="579.10" font-size="16.80" text-anchor="start" textLength="90.20" lengthAdjust="spacingAndGlyphs" fill="#262626">bbp676 (m</text><text x="311.10" y="571.10" font-size="13.44" text-anchor="start" textLength="13.00" lengthAdjust="spacingAndGlyphs" fill="#262626">-1</text><text x="325.30" y="579.10" font-size="16.80" text-anchor="start" textLength="6.00" lengthAdjust="spacingAndGlyphs" fill="#262626">)</text>
<text x="897.00" y="712.90" font-size="13.57" text-anchor="start" textLength="36.57" lengthAdjust="spacingAndGlyphs" fill="#000">CTD1</text>
<text x="897.00" y="730.60" font-size="13.57" text-anchor="start" textLength="36.57" lengthAdjust="spacingAndGlyphs" fill="#000">CTD2</text>
<text x="580.80" y="854.60" font-size="20.36" text-anchor="middle" font-weight="bold" textLength="455.00" lengthAdjust="spacingAndGlyphs" fill="#000">Survey Dorado389_2009_155_03_155_03</text>
</svg>
</body></html>
